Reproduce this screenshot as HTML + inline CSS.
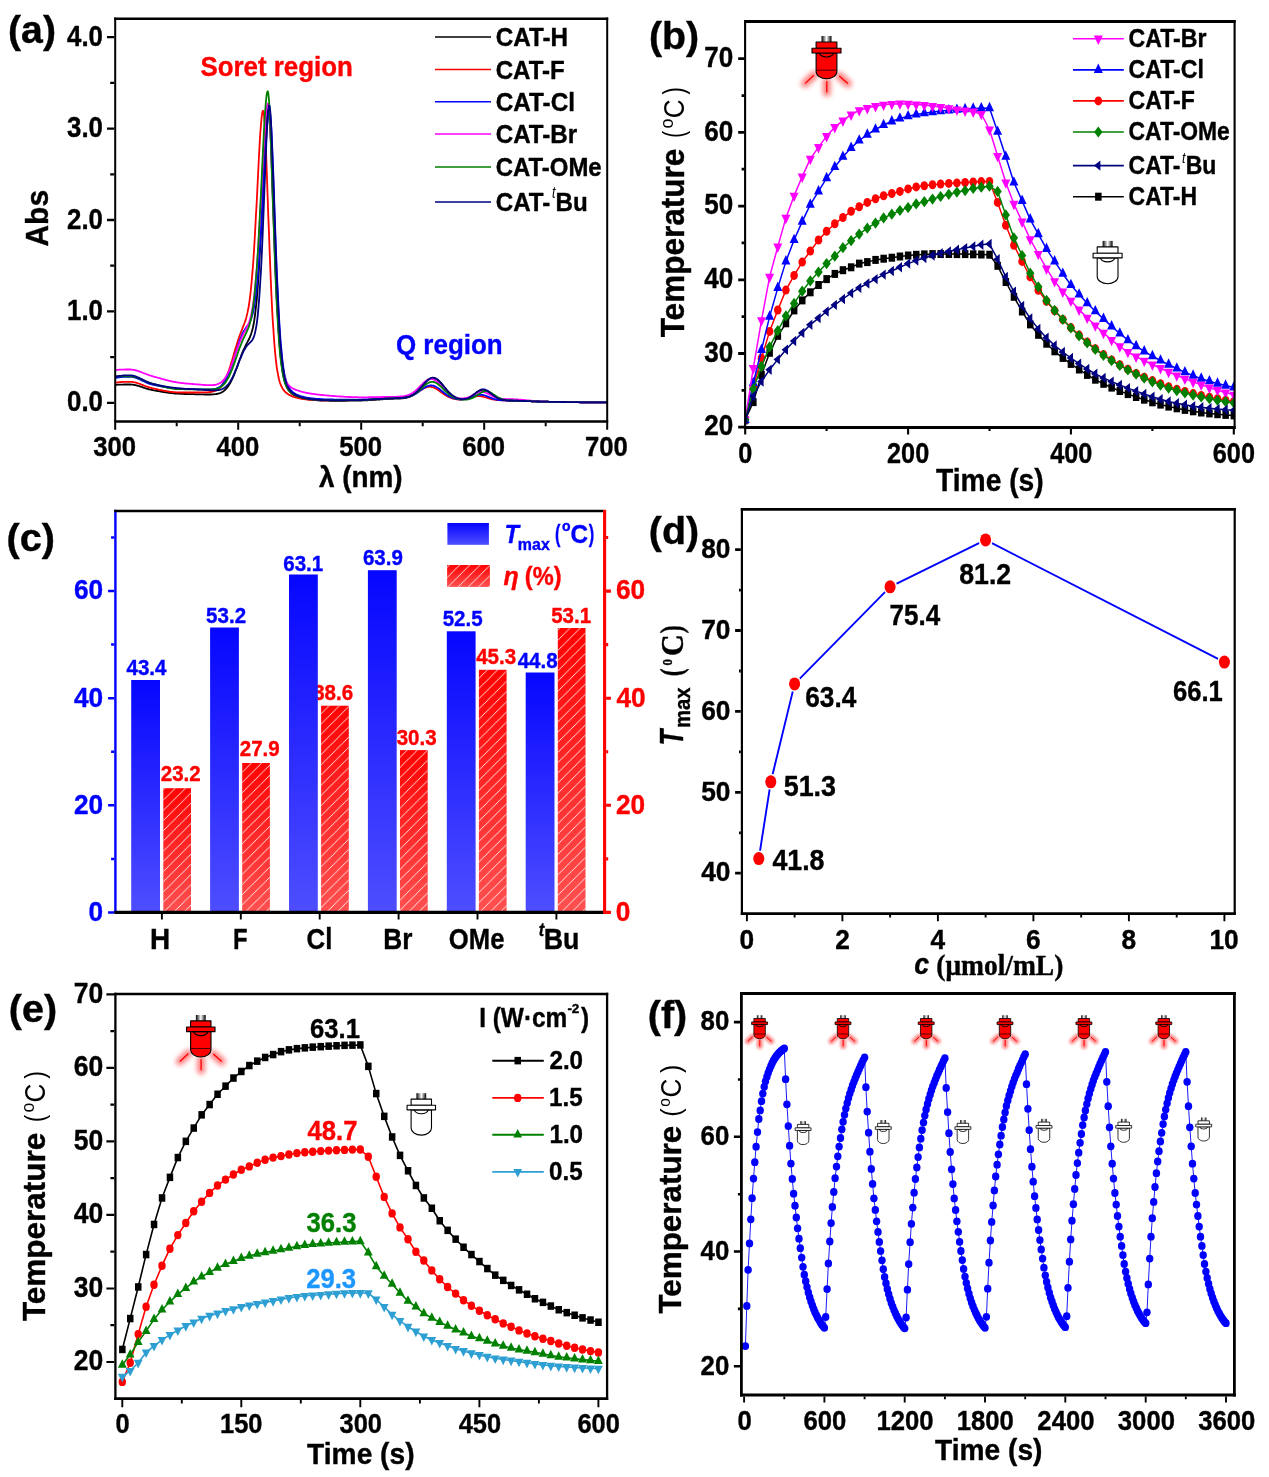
<!DOCTYPE html>
<html lang="en"><head><meta charset="utf-8"><title>Figure</title>
<style>
html,body{margin:0;padding:0;background:#fff}
svg{display:block;will-change:transform}
text{stroke-width:0.4}
.lb,.ls,.ry{vector-effect:non-scaling-stroke}
.on .lb{fill:#f00;stroke:#000;stroke-width:1.1}
.on .ls{stroke:#000;stroke-width:1.1}
.off .lb{fill:#fff;stroke:#000;stroke-width:1.1}
.off .ls{stroke:#000;stroke-width:1.1}
.sm .lb,.sm .ls{stroke-width:0.8}
.sm .ry{stroke-width:1}
</style></head>
<body>
<svg width="1269" height="1477" viewBox="0 0 1269 1477" font-family='"Liberation Sans", Arial, Helvetica, sans-serif' font-weight="bold" stroke-linejoin="round">
<defs>
<linearGradient id="capg" x1="0" x2="1" y1="0" y2="0"><stop offset="0" stop-color="#000"/><stop offset="0.5" stop-color="#fff"/><stop offset="1" stop-color="#000"/></linearGradient>
<filter id="glow" x="-100%" y="-100%" width="300%" height="300%"><feGaussianBlur stdDeviation="2.5"/></filter>
<filter id="glowb" x="-100%" y="-100%" width="300%" height="300%"><feGaussianBlur stdDeviation="3.2"/></filter>
<g id="lampoff"><g class="off"><rect x="-5" y="0" width="10" height="6.2" fill="url(#capg)"/><rect x="-10.4" y="6" width="20.8" height="6.3" class="lb"/><path d="M-10.4 17V35.5A10.4 7.3 0 0 0 10.4 35.5V17Z" class="lb"/><rect x="-14.5" y="12.3" width="29" height="4.7" class="lb"/><path d="M-7 17A7 4 0 0 0 7 17" fill="none" class="ls"/></g></g>
<g id="lampoffs" class="sm"><g class="off"><rect x="-5" y="0" width="10" height="6.2" fill="url(#capg)"/><rect x="-10.4" y="6" width="20.8" height="6.3" class="lb"/><path d="M-10.4 17V35.5A10.4 7.3 0 0 0 10.4 35.5V17Z" class="lb"/><rect x="-14.5" y="12.3" width="29" height="4.7" class="lb"/><path d="M-7 17A7 4 0 0 0 7 17" fill="none" class="ls"/></g></g>
<g id="lampon"><path d="M-12.6 39.2L-21.3 47.4M0.3 45.2V56.5M12.8 39.9L21.3 47.4" stroke="#f00" stroke-width="8" stroke-linecap="round" opacity="0.5" filter="url(#glow)"/><path d="M-12.6 39.2L-21.3 47.4M0.3 45.2V56.5M12.8 39.9L21.3 47.4" stroke="#f00" stroke-width="1.3" class="ry"/><g class="on"><rect x="-5" y="0" width="10" height="6.2" fill="url(#capg)"/><rect x="-10.4" y="6" width="20.8" height="6.3" class="lb"/><path d="M-10.4 17V35.5A10.4 7.3 0 0 0 10.4 35.5V17Z" class="lb"/><rect x="-14.5" y="12.3" width="29" height="4.7" class="lb"/><path d="M-7 17A7 4 0 0 0 7 17" fill="none" class="ls"/><path d="M-10.4 34.2H10.4" stroke="#500" stroke-width="1.1" class="ry"/></g></g>
<g id="lampons" class="sm"><path d="M-12.6 39.2L-21.3 47.4M0.3 45.2V56.5M12.8 39.9L21.3 47.4" stroke="#f00" stroke-width="10" stroke-linecap="round" opacity="0.5" filter="url(#glowb)"/><path d="M-12.6 39.2L-21.3 47.4M0.3 45.2V56.5M12.8 39.9L21.3 47.4" stroke="#f00" stroke-width="1.3" class="ry"/><g class="on"><rect x="-5" y="0" width="10" height="6.2" fill="url(#capg)"/><rect x="-10.4" y="6" width="20.8" height="6.3" class="lb"/><path d="M-10.4 17V35.5A10.4 7.3 0 0 0 10.4 35.5V17Z" class="lb"/><rect x="-14.5" y="12.3" width="29" height="4.7" class="lb"/><path d="M-7 17A7 4 0 0 0 7 17" fill="none" class="ls"/><path d="M-10.4 34.2H10.4" stroke="#500" stroke-width="1.1" class="ry"/></g></g>
<marker id="bsq" markerUnits="userSpaceOnUse" markerWidth="24" markerHeight="24" viewBox="-12 -12 24 24" refX="0" refY="0" overflow="visible"><rect x="-3.2" y="-4" width="6.5" height="8" fill="#000"/></marker>
<marker id="bci" markerUnits="userSpaceOnUse" markerWidth="24" markerHeight="24" viewBox="-12 -12 24 24" refX="0" refY="0" overflow="visible"><ellipse rx="3.8" ry="4.5" fill="#f00"/></marker>
<marker id="bup" markerUnits="userSpaceOnUse" markerWidth="24" markerHeight="24" viewBox="-12 -12 24 24" refX="0" refY="0" overflow="visible"><path d="M0 -6.3L4.5 3.1H-4.5Z" fill="#00f"/></marker>
<marker id="bdn" markerUnits="userSpaceOnUse" markerWidth="24" markerHeight="24" viewBox="-12 -12 24 24" refX="0" refY="0" overflow="visible"><path d="M0 6.3L4.5 -3.1H-4.5Z" fill="#f0f"/></marker>
<marker id="bdi" markerUnits="userSpaceOnUse" markerWidth="24" markerHeight="24" viewBox="-12 -12 24 24" refX="0" refY="0" overflow="visible"><path d="M0 -5.6L4.2 0L0 5.6L-4.2 0Z" fill="#008000"/></marker>
<marker id="blf" markerUnits="userSpaceOnUse" markerWidth="24" markerHeight="24" viewBox="-12 -12 24 24" refX="0" refY="0" overflow="visible"><path d="M-4.3 0L2.1 5.2V-5.2Z" fill="#000080"/></marker>
<clipPath id="clb"><rect x="745.1" y="21.4" width="489.5" height="406.1"/></clipPath>
<linearGradient id="gb" x1="0" x2="0" y1="0" y2="1"><stop offset="0" stop-color="#0606ff"/><stop offset="1" stop-color="#4e4eff"/></linearGradient>
<linearGradient id="gr" x1="0" x2="0" y1="0" y2="1"><stop offset="0" stop-color="#ff0202"/><stop offset="1" stop-color="#ff5050"/></linearGradient>
<pattern id="hat" patternUnits="userSpaceOnUse" width="10.2" height="10.2"><path d="M5.7 -1L-1 5.7M11.2 3.7L3.7 11.2" stroke="#fff" stroke-width="0.9" stroke-opacity="0.95"/></pattern>
<marker id="esq" markerUnits="userSpaceOnUse" markerWidth="24" markerHeight="24" viewBox="-12 -12 24 24" refX="0" refY="0" overflow="visible"><rect x="-3.2" y="-3.8" width="6.5" height="7.5" fill="#000"/></marker>
<marker id="eci" markerUnits="userSpaceOnUse" markerWidth="24" markerHeight="24" viewBox="-12 -12 24 24" refX="0" refY="0" overflow="visible"><ellipse rx="3.7" ry="4.2" fill="#f00"/></marker>
<marker id="eup" markerUnits="userSpaceOnUse" markerWidth="24" markerHeight="24" viewBox="-12 -12 24 24" refX="0" refY="0" overflow="visible"><path d="M0 -5.7L4.4 2.8H-4.4Z" fill="#008000"/></marker>
<marker id="edn" markerUnits="userSpaceOnUse" markerWidth="24" markerHeight="24" viewBox="-12 -12 24 24" refX="0" refY="0" overflow="visible"><path d="M0 5.7L4.4 -2.9H-4.4Z" fill="#2e9fd2"/></marker>
<marker id="fci" markerUnits="userSpaceOnUse" markerWidth="24" markerHeight="24" viewBox="-12 -12 24 24" refX="0" refY="0" overflow="visible"><ellipse rx="3.7" ry="3.9" fill="#00f"/></marker>
</defs>
<g id="pa">
<g stroke-linejoin="round">
<polyline points="115.2,384.9 115.8,384.8 116.4,384.8 117,384.8 117.7,384.7 118.3,384.7 118.9,384.7 119.5,384.6 120.1,384.6 120.7,384.6 121.4,384.6 122,384.6 122.6,384.6 123.2,384.6 123.8,384.5 124.4,384.5 125,384.5 125.7,384.5 126.3,384.5 126.9,384.5 127.5,384.5 128.1,384.5 128.7,384.5 129.3,384.5 130,384.5 130.6,384.5 131.2,384.6 131.8,384.6 132.4,384.7 133,384.7 133.7,384.8 134.3,384.9 134.9,385.1 135.5,385.2 136.1,385.3 136.7,385.5 137.3,385.6 138,385.8 138.6,386 139.2,386.2 139.8,386.4 140.4,386.5 141,386.7 141.6,386.9 142.3,387.1 142.9,387.4 143.5,387.6 144.1,387.8 144.7,388 145.3,388.2 146,388.4 146.6,388.6 147.2,388.8 147.8,388.9 148.4,389.1 149,389.3 149.6,389.4 150.3,389.6 150.9,389.7 151.5,389.9 152.1,390 152.7,390.1 153.3,390.2 153.9,390.3 154.6,390.5 155.2,390.6 155.8,390.7 156.4,390.8 157,390.9 157.6,391 158.2,391.1 158.9,391.2 159.5,391.3 160.1,391.4 160.7,391.6 161.3,391.7 161.9,391.8 162.6,391.9 163.2,392 163.8,392.1 164.4,392.2 165,392.3 165.6,392.3 166.2,392.4 166.9,392.5 167.5,392.6 168.1,392.7 168.7,392.8 169.3,392.9 169.9,392.9 170.6,393 171.2,393.1 171.8,393.2 172.4,393.2 173,393.3 173.6,393.3 174.2,393.4 174.9,393.5 175.5,393.5 176.1,393.5 176.7,393.6 177.3,393.6 177.9,393.7 178.5,393.7 179.2,393.7 179.8,393.8 180.4,393.8 181,393.8 181.6,393.9 182.2,393.9 182.9,393.9 183.5,393.9 184.1,394 184.7,394 185.3,394 185.9,394 186.5,394 187.2,394.1 187.8,394.1 188.4,394.1 189,394.1 189.6,394.1 190.2,394.1 190.8,394.2 191.5,394.2 192.1,394.2 192.7,394.2 193.3,394.2 193.9,394.2 194.5,394.2 195.2,394.3 195.8,394.3 196.4,394.3 197,394.3 197.6,394.3 198.2,394.3 198.8,394.3 199.5,394.3 200.1,394.4 200.7,394.4 201.3,394.4 201.9,394.4 202.5,394.4 203.1,394.4 203.8,394.4 204.4,394.5 205,394.5 205.6,394.5 206.2,394.5 206.8,394.5 207.5,394.5 208.1,394.5 208.7,394.5 209.3,394.5 209.9,394.5 210.5,394.5 211.1,394.5 211.8,394.4 212.4,394.4 213,394.4 213.6,394.3 214.2,394.3 214.8,394.2 215.4,394.2 216.1,394.1 216.7,394 217.3,393.9 217.9,393.7 218.5,393.6 219.1,393.4 219.8,393.2 220.4,393 221,392.7 221.6,392.4 222.2,392.1 222.8,391.7 223.4,391.3 224.1,390.8 224.7,390.3 225.3,389.7 225.9,389.1 226.5,388.4 227.1,387.7 227.7,386.9 228.4,386 229,385.1 229.6,384.1 230.2,383 230.8,381.8 231.4,380.6 232.1,379.3 232.7,378 233.3,376.6 233.9,375.1 234.5,373.6 235.1,372 235.7,370.4 236.4,368.8 237,367.1 237.6,365.4 238.2,363.7 238.8,362 239.4,360.3 240,358.7 240.7,357 241.3,355.4 241.9,353.8 242.5,352.3 243.1,350.9 243.7,349.5 244.4,348.1 245,346.8 245.6,345.6 246.2,344.4 246.8,343.2 247.4,342.1 248,340.9 248.7,339.8 249.3,338.5 249.9,337.2 250.5,335.7 251.1,334 251.7,332.1 252.3,329.9 253,327.3 253.6,324.3 254.2,320.8 254.8,316.7 255.4,311.9 256,306.4 256.7,300.2 257.3,293.2 257.9,285.3 258.5,276.5 259.1,266.8 259.7,256.3 260.3,244.9 261,232.8 261.6,220 262.2,206.8 262.8,193.2 263.4,179.6 264,166.1 264.6,153.3 265.3,141.3 265.9,130.7 266.5,121.9 267.1,115.3 267.7,111.1 268.3,109.8 269,111.8 269.6,118 270.2,127.9 270.8,141 271.4,156.2 272,173 272.6,190.5 273.3,208.2 273.9,225.7 274.5,242.7 275.1,258.9 275.7,274.1 276.3,288.3 276.9,301.4 277.6,313.2 278.2,324 278.8,333.6 279.4,342.1 280,349.6 280.6,356.1 281.3,361.8 281.9,366.6 282.5,370.8 283.1,374.4 283.7,377.4 284.3,380 284.9,382.2 285.6,384.1 286.2,385.7 286.8,387.1 287.4,388.3 288,389.3 288.6,390.2 289.2,391 289.9,391.7 290.5,392.4 291.1,392.9 291.7,393.5 292.3,393.9 292.9,394.4 293.6,394.8 294.2,395.1 294.8,395.5 295.4,395.8 296,396.1 296.6,396.4 297.2,396.7 297.9,396.9 298.5,397.1 299.1,397.4 299.7,397.6 300.3,397.8 300.9,397.9 301.5,398.1 302.2,398.3 302.8,398.4 303.4,398.5 304,398.7 304.6,398.8 305.2,398.9 305.9,399 306.5,399.1 307.1,399.2 307.7,399.3 308.3,399.4 308.9,399.5 309.5,399.6 310.2,399.7 310.8,399.7 311.4,399.8 312,399.9 312.6,399.9 313.2,400 313.8,400.1 314.5,400.1 315.1,400.2 315.7,400.2 316.3,400.2 316.9,400.3 317.5,400.3 318.2,400.4 318.8,400.4 319.4,400.4 320,400.5 320.6,400.5 321.2,400.5 321.8,400.5 322.5,400.6 323.1,400.6 323.7,400.6 324.3,400.6 324.9,400.6 325.5,400.7 326.1,400.7 326.8,400.7 327.4,400.7 328,400.7 328.6,400.7 329.2,400.7 329.8,400.8 330.5,400.8 331.1,400.8 331.7,400.8 332.3,400.8 332.9,400.8 333.5,400.8 334.1,400.8 334.8,400.8 335.4,400.8 336,400.8 336.6,400.8 337.2,400.8 337.8,400.8 338.4,400.8 339.1,400.8 339.7,400.8 340.3,400.8 340.9,400.8 341.5,400.8 342.1,400.8 342.8,400.8 343.4,400.8 344,400.8 344.6,400.8 345.2,400.7 345.8,400.7 346.4,400.7 347.1,400.7 347.7,400.7 348.3,400.7 348.9,400.7 349.5,400.7 350.1,400.7 350.7,400.7 351.4,400.7 352,400.7 352.6,400.6 353.2,400.6 353.8,400.6 354.4,400.6 355.1,400.6 355.7,400.6 356.3,400.6 356.9,400.6 357.5,400.6 358.1,400.5 358.7,400.5 359.4,400.5 360,400.5 360.6,400.5 361.2,400.5 361.8,400.5 362.4,400.4 363,400.4 363.7,400.4 364.3,400.4 364.9,400.4 365.5,400.3 366.1,400.3 366.7,400.3 367.4,400.3 368,400.2 368.6,400.2 369.2,400.2 369.8,400.1 370.4,400.1 371,400.1 371.7,400 372.3,400 372.9,399.9 373.5,399.9 374.1,399.9 374.7,399.8 375.3,399.8 376,399.7 376.6,399.7 377.2,399.7 377.8,399.6 378.4,399.6 379,399.5 379.7,399.5 380.3,399.4 380.9,399.4 381.5,399.4 382.1,399.3 382.7,399.3 383.3,399.2 384,399.2 384.6,399.2 385.2,399.1 385.8,399.1 386.4,399.1 387,399 387.6,399 388.3,399 388.9,398.9 389.5,398.9 390.1,398.9 390.7,398.8 391.3,398.8 392,398.8 392.6,398.8 393.2,398.7 393.8,398.7 394.4,398.7 395,398.7 395.6,398.7 396.3,398.6 396.9,398.6 397.5,398.6 398.1,398.6 398.7,398.6 399.3,398.5 399.9,398.5 400.6,398.5 401.2,398.4 401.8,398.4 402.4,398.3 403,398.3 403.6,398.2 404.2,398.1 404.9,398 405.5,397.9 406.1,397.8 406.7,397.7 407.3,397.5 407.9,397.3 408.6,397.1 409.2,396.9 409.8,396.7 410.4,396.4 411,396.2 411.6,395.9 412.2,395.5 412.9,395.1 413.5,394.8 414.1,394.3 414.7,393.9 415.3,393.4 415.9,392.9 416.6,392.3 417.2,391.7 417.8,391.1 418.4,390.5 419,389.8 419.6,389.2 420.2,388.5 420.9,387.8 421.5,387.1 422.1,386.3 422.7,385.6 423.3,384.9 423.9,384.2 424.5,383.5 425.2,382.8 425.8,382.2 426.4,381.5 427,380.9 427.6,380.4 428.2,379.9 428.9,379.4 429.5,379 430.1,378.7 430.7,378.4 431.3,378.2 431.9,378 432.5,377.9 433.2,377.9 433.8,378 434.4,378.1 435,378.3 435.6,378.5 436.2,378.9 436.8,379.3 437.5,379.7 438.1,380.2 438.7,380.7 439.3,381.3 439.9,381.9 440.5,382.6 441.2,383.3 441.8,384 442.4,384.7 443,385.5 443.6,386.2 444.2,387 444.8,387.8 445.5,388.5 446.1,389.2 446.7,390 447.3,390.7 447.9,391.4 448.5,392 449.1,392.6 449.8,393.3 450.4,393.8 451,394.4 451.6,394.9 452.2,395.4 452.8,395.8 453.5,396.2 454.1,396.6 454.7,397 455.3,397.3 455.9,397.6 456.5,397.9 457.1,398.1 457.8,398.3 458.4,398.5 459,398.7 459.6,398.8 460.2,398.9 460.8,399 461.4,399.1 462.1,399.1 462.7,399.1 463.3,399.1 463.9,399.1 464.5,399 465.1,398.9 465.8,398.8 466.4,398.6 467,398.5 467.6,398.3 468.2,398 468.8,397.8 469.4,397.5 470.1,397.1 470.7,396.8 471.3,396.4 471.9,396 472.5,395.6 473.1,395.1 473.7,394.7 474.4,394.2 475,393.7 475.6,393.3 476.2,392.8 476.8,392.3 477.4,391.9 478.1,391.5 478.7,391.1 479.3,390.8 479.9,390.5 480.5,390.2 481.1,390 481.7,389.9 482.4,389.8 483,389.8 483.6,389.8 484.2,389.9 484.8,390 485.4,390.2 486,390.5 486.7,390.8 487.3,391.2 487.9,391.6 488.5,392 489.1,392.4 489.7,392.9 490.4,393.4 491,393.9 491.6,394.3 492.2,394.8 492.8,395.3 493.4,395.8 494,396.2 494.7,396.6 495.3,397 495.9,397.4 496.5,397.7 497.1,398.1 497.7,398.4 498.3,398.6 499,398.9 499.6,399.1 500.2,399.3 500.8,399.5 501.4,399.6 502,399.8 502.7,399.9 503.3,400 503.9,400.1 504.5,400.1 505.1,400.2 505.7,400.3 506.3,400.3 507,400.4 507.6,400.4 508.2,400.4 508.8,400.4 509.4,400.5 510,400.5 510.6,400.5 511.3,400.5 511.9,400.6 512.5,400.6 513.1,400.6 513.7,400.6 514.3,400.6 515,400.6 515.6,400.7 516.2,400.7 516.8,400.7 517.4,400.7 518,400.7 518.6,400.8 519.3,400.8 519.9,400.8 520.5,400.8 521.1,400.9 521.7,400.9 522.3,400.9 522.9,400.9 523.6,400.9 524.2,401 524.8,401 525.4,401 526,401 526.6,401.1 527.3,401.1 527.9,401.1 528.5,401.1 529.1,401.2 529.7,401.2 530.3,401.2 530.9,401.2 531.6,401.3 532.2,401.3 532.8,401.3 533.4,401.3 534,401.4 534.6,401.4 535.2,401.4 535.9,401.4 536.5,401.4 537.1,401.5 537.7,401.5 538.3,401.5 538.9,401.5 539.6,401.6 540.2,401.6 540.8,401.6 541.4,401.6 542,401.6 542.6,401.6 543.2,401.7 543.9,401.7 544.5,401.7 545.1,401.7 545.7,401.7 546.3,401.7 546.9,401.7 547.5,401.7 548.2,401.7 548.8,401.8 549.4,401.8 550,401.8 550.6,401.8 551.2,401.8 551.9,401.8 552.5,401.8 553.1,401.8 553.7,401.8 554.3,401.9 554.9,401.9 555.5,401.9 556.2,401.9 556.8,401.9 557.4,401.9 558,401.9 558.6,401.9 559.2,401.9 559.8,402 560.5,402 561.1,402 561.7,402 562.3,402 562.9,402 563.5,402 564.2,402 564.8,402 565.4,402 566,402.1 566.6,402.1 567.2,402.1 567.8,402.1 568.5,402.1 569.1,402.1 569.7,402.1 570.3,402.1 570.9,402.1 571.5,402.1 572.1,402.1 572.8,402.2 573.4,402.2 574,402.2 574.6,402.2 575.2,402.2 575.8,402.2 576.5,402.2 577.1,402.2 577.7,402.2 578.3,402.2 578.9,402.2 579.5,402.2 580.1,402.3 580.8,402.3 581.4,402.3 582,402.3 582.6,402.3 583.2,402.3 583.8,402.3 584.4,402.3 585.1,402.3 585.7,402.3 586.3,402.3 586.9,402.3 587.5,402.3 588.1,402.3 588.8,402.3 589.4,402.4 590,402.4 590.6,402.4 591.2,402.4 591.8,402.4 592.4,402.4 593.1,402.4 593.7,402.4 594.3,402.4 594.9,402.4 595.5,402.4 596.1,402.4 596.7,402.4 597.4,402.4 598,402.4 598.6,402.4 599.2,402.4 599.8,402.4 600.4,402.4 601.1,402.4 601.7,402.4 602.3,402.4 602.9,402.4 603.5,402.4 604.1,402.4 604.7,402.4 605.4,402.4 606,402.4 606.6,402.4 607.2,402.4" fill="none" stroke="#000" stroke-width="1.8"/>
<polyline points="115.2,382.9 115.8,382.7 116.4,382.6 117,382.5 117.7,382.4 118.3,382.3 118.9,382.2 119.5,382.2 120.1,382.1 120.7,382.1 121.4,382 122,382 122.6,381.9 123.2,381.9 123.8,381.9 124.4,381.8 125,381.8 125.7,381.8 126.3,381.8 126.9,381.8 127.5,381.8 128.1,381.8 128.7,381.8 129.3,381.8 130,381.8 130.6,381.8 131.2,381.8 131.8,381.9 132.4,381.9 133,382 133.7,382.1 134.3,382.3 134.9,382.4 135.5,382.5 136.1,382.7 136.7,382.9 137.3,383.1 138,383.3 138.6,383.5 139.2,383.7 139.8,383.9 140.4,384.1 141,384.4 141.6,384.6 142.3,384.8 142.9,385.1 143.5,385.3 144.1,385.6 144.7,385.8 145.3,386 146,386.3 146.6,386.5 147.2,386.7 147.8,386.9 148.4,387.1 149,387.3 149.6,387.5 150.3,387.7 150.9,387.9 151.5,388 152.1,388.2 152.7,388.3 153.3,388.4 153.9,388.6 154.6,388.7 155.2,388.8 155.8,389 156.4,389.1 157,389.2 157.6,389.4 158.2,389.5 158.9,389.7 159.5,389.8 160.1,389.9 160.7,390.1 161.3,390.2 161.9,390.3 162.6,390.4 163.2,390.6 163.8,390.7 164.4,390.8 165,390.9 165.6,391 166.2,391.1 166.9,391.2 167.5,391.3 168.1,391.4 168.7,391.5 169.3,391.6 169.9,391.7 170.6,391.8 171.2,391.9 171.8,392 172.4,392 173,392.1 173.6,392.1 174.2,392.2 174.9,392.2 175.5,392.3 176.1,392.3 176.7,392.4 177.3,392.4 177.9,392.4 178.5,392.4 179.2,392.4 179.8,392.5 180.4,392.5 181,392.5 181.6,392.5 182.2,392.5 182.9,392.5 183.5,392.5 184.1,392.5 184.7,392.5 185.3,392.5 185.9,392.5 186.5,392.5 187.2,392.5 187.8,392.5 188.4,392.5 189,392.5 189.6,392.5 190.2,392.5 190.8,392.5 191.5,392.5 192.1,392.5 192.7,392.5 193.3,392.5 193.9,392.5 194.5,392.5 195.2,392.5 195.8,392.5 196.4,392.5 197,392.5 197.6,392.5 198.2,392.5 198.8,392.5 199.5,392.5 200.1,392.4 200.7,392.4 201.3,392.4 201.9,392.4 202.5,392.4 203.1,392.4 203.8,392.4 204.4,392.4 205,392.4 205.6,392.3 206.2,392.3 206.8,392.3 207.5,392.3 208.1,392.2 208.7,392.2 209.3,392.1 209.9,392.1 210.5,392 211.1,391.9 211.8,391.8 212.4,391.7 213,391.5 213.6,391.4 214.2,391.2 214.8,391 215.4,390.7 216.1,390.4 216.7,390.1 217.3,389.7 217.9,389.3 218.5,388.9 219.1,388.3 219.8,387.8 220.4,387.1 221,386.4 221.6,385.6 222.2,384.8 222.8,383.8 223.4,382.8 224.1,381.7 224.7,380.6 225.3,379.3 225.9,378 226.5,376.5 227.1,375 227.7,373.4 228.4,371.7 229,370 229.6,368.1 230.2,366.3 230.8,364.3 231.4,362.3 232.1,360.3 232.7,358.2 233.3,356.1 233.9,354 234.5,351.9 235.1,349.8 235.7,347.7 236.4,345.7 237,343.7 237.6,341.8 238.2,339.9 238.8,338 239.4,336.3 240,334.6 240.7,332.9 241.3,331.3 241.9,329.8 242.5,328.2 243.1,326.7 243.7,325.1 244.4,323.5 245,321.8 245.6,319.9 246.2,317.9 246.8,315.5 247.4,312.9 248,310 248.7,306.5 249.3,302.6 249.9,298.2 250.5,293.1 251.1,287.3 251.7,280.8 252.3,273.6 253,265.6 253.6,256.8 254.2,247.2 254.8,236.9 255.4,226 256,214.4 256.7,202.5 257.3,190.2 257.9,177.9 258.5,165.7 259.1,153.9 259.7,142.9 260.3,133 261,124.5 261.6,117.8 262.2,113.1 262.8,110.8 263.4,111 264,114.9 264.6,122.8 265.3,134.1 265.9,148.2 266.5,164.1 267.1,181.2 267.7,198.7 268.3,216.3 269,233.6 269.6,250.1 270.2,265.8 270.8,280.5 271.4,294.2 272,306.7 272.6,318 273.3,328.2 273.9,337.3 274.5,345.3 275.1,352.3 275.7,358.4 276.3,363.7 276.9,368.3 277.6,372.2 278.2,375.5 278.8,378.3 279.4,380.7 280,382.7 280.6,384.5 281.3,386 281.9,387.2 282.5,388.4 283.1,389.3 283.7,390.2 284.3,390.9 284.9,391.6 285.6,392.2 286.2,392.7 286.8,393.2 287.4,393.7 288,394.1 288.6,394.5 289.2,394.9 289.9,395.2 290.5,395.5 291.1,395.8 291.7,396.1 292.3,396.3 292.9,396.6 293.6,396.8 294.2,397 294.8,397.2 295.4,397.4 296,397.6 296.6,397.7 297.2,397.9 297.9,398 298.5,398.2 299.1,398.3 299.7,398.4 300.3,398.6 300.9,398.7 301.5,398.8 302.2,398.9 302.8,399 303.4,399.1 304,399.1 304.6,399.2 305.2,399.3 305.9,399.4 306.5,399.4 307.1,399.5 307.7,399.6 308.3,399.6 308.9,399.7 309.5,399.7 310.2,399.8 310.8,399.8 311.4,399.9 312,399.9 312.6,399.9 313.2,400 313.8,400 314.5,400.1 315.1,400.1 315.7,400.1 316.3,400.1 316.9,400.2 317.5,400.2 318.2,400.2 318.8,400.2 319.4,400.3 320,400.3 320.6,400.3 321.2,400.3 321.8,400.3 322.5,400.3 323.1,400.3 323.7,400.4 324.3,400.4 324.9,400.4 325.5,400.4 326.1,400.4 326.8,400.4 327.4,400.4 328,400.4 328.6,400.4 329.2,400.4 329.8,400.4 330.5,400.4 331.1,400.4 331.7,400.4 332.3,400.4 332.9,400.4 333.5,400.4 334.1,400.4 334.8,400.4 335.4,400.4 336,400.4 336.6,400.4 337.2,400.4 337.8,400.4 338.4,400.4 339.1,400.4 339.7,400.4 340.3,400.4 340.9,400.4 341.5,400.4 342.1,400.4 342.8,400.4 343.4,400.4 344,400.3 344.6,400.3 345.2,400.3 345.8,400.3 346.4,400.3 347.1,400.3 347.7,400.3 348.3,400.3 348.9,400.3 349.5,400.3 350.1,400.3 350.7,400.2 351.4,400.2 352,400.2 352.6,400.2 353.2,400.2 353.8,400.2 354.4,400.2 355.1,400.2 355.7,400.2 356.3,400.1 356.9,400.1 357.5,400.1 358.1,400.1 358.7,400.1 359.4,400.1 360,400.1 360.6,400 361.2,400 361.8,400 362.4,400 363,400 363.7,400 364.3,399.9 364.9,399.9 365.5,399.9 366.1,399.9 366.7,399.8 367.4,399.8 368,399.8 368.6,399.7 369.2,399.7 369.8,399.7 370.4,399.6 371,399.6 371.7,399.6 372.3,399.5 372.9,399.5 373.5,399.4 374.1,399.4 374.7,399.4 375.3,399.3 376,399.3 376.6,399.2 377.2,399.2 377.8,399.2 378.4,399.1 379,399.1 379.7,399 380.3,399 380.9,398.9 381.5,398.9 382.1,398.9 382.7,398.8 383.3,398.8 384,398.7 384.6,398.7 385.2,398.7 385.8,398.6 386.4,398.6 387,398.6 387.6,398.5 388.3,398.5 388.9,398.5 389.5,398.4 390.1,398.4 390.7,398.4 391.3,398.3 392,398.3 392.6,398.3 393.2,398.3 393.8,398.2 394.4,398.2 395,398.2 395.6,398.2 396.3,398.1 396.9,398.1 397.5,398.1 398.1,398.1 398.7,398 399.3,398 399.9,398 400.6,397.9 401.2,397.9 401.8,397.8 402.4,397.8 403,397.7 403.6,397.6 404.2,397.6 404.9,397.5 405.5,397.4 406.1,397.2 406.7,397.1 407.3,397 407.9,396.8 408.6,396.6 409.2,396.5 409.8,396.3 410.4,396 411,395.8 411.6,395.5 412.2,395.3 412.9,395 413.5,394.7 414.1,394.3 414.7,394 415.3,393.7 415.9,393.3 416.6,392.9 417.2,392.5 417.8,392.1 418.4,391.7 419,391.3 419.6,390.9 420.2,390.5 420.9,390.1 421.5,389.8 422.1,389.4 422.7,389 423.3,388.7 423.9,388.3 424.5,388 425.2,387.8 425.8,387.5 426.4,387.3 427,387.1 427.6,387 428.2,386.9 428.9,386.8 429.5,386.7 430.1,386.7 430.7,386.8 431.3,386.9 431.9,387 432.5,387.2 433.2,387.4 433.8,387.6 434.4,387.9 435,388.2 435.6,388.5 436.2,388.8 436.8,389.2 437.5,389.6 438.1,390 438.7,390.4 439.3,390.9 439.9,391.3 440.5,391.8 441.2,392.2 441.8,392.7 442.4,393.1 443,393.6 443.6,394 444.2,394.4 444.8,394.8 445.5,395.2 446.1,395.6 446.7,395.9 447.3,396.3 447.9,396.6 448.5,396.9 449.1,397.2 449.8,397.5 450.4,397.7 451,398 451.6,398.2 452.2,398.4 452.8,398.5 453.5,398.7 454.1,398.9 454.7,399 455.3,399.1 455.9,399.2 456.5,399.3 457.1,399.4 457.8,399.4 458.4,399.5 459,399.5 459.6,399.5 460.2,399.5 460.8,399.5 461.4,399.5 462.1,399.4 462.7,399.4 463.3,399.3 463.9,399.3 464.5,399.2 465.1,399.1 465.8,398.9 466.4,398.8 467,398.7 467.6,398.5 468.2,398.4 468.8,398.2 469.4,398 470.1,397.9 470.7,397.7 471.3,397.5 471.9,397.3 472.5,397.1 473.1,397 473.7,396.8 474.4,396.7 475,396.5 475.6,396.4 476.2,396.3 476.8,396.2 477.4,396.2 478.1,396.1 478.7,396.1 479.3,396.1 479.9,396.2 480.5,396.2 481.1,396.3 481.7,396.4 482.4,396.5 483,396.7 483.6,396.8 484.2,397 484.8,397.2 485.4,397.3 486,397.5 486.7,397.7 487.3,397.9 487.9,398.1 488.5,398.3 489.1,398.5 489.7,398.7 490.4,398.8 491,399 491.6,399.1 492.2,399.3 492.8,399.4 493.4,399.5 494,399.6 494.7,399.7 495.3,399.8 495.9,399.9 496.5,400 497.1,400.1 497.7,400.1 498.3,400.2 499,400.2 499.6,400.2 500.2,400.3 500.8,400.3 501.4,400.3 502,400.4 502.7,400.4 503.3,400.4 503.9,400.4 504.5,400.4 505.1,400.4 505.7,400.5 506.3,400.5 507,400.5 507.6,400.5 508.2,400.5 508.8,400.5 509.4,400.5 510,400.5 510.6,400.5 511.3,400.6 511.9,400.6 512.5,400.6 513.1,400.6 513.7,400.6 514.3,400.6 515,400.7 515.6,400.7 516.2,400.7 516.8,400.7 517.4,400.7 518,400.7 518.6,400.8 519.3,400.8 519.9,400.8 520.5,400.8 521.1,400.9 521.7,400.9 522.3,400.9 522.9,400.9 523.6,400.9 524.2,401 524.8,401 525.4,401 526,401 526.6,401.1 527.3,401.1 527.9,401.1 528.5,401.1 529.1,401.2 529.7,401.2 530.3,401.2 530.9,401.2 531.6,401.3 532.2,401.3 532.8,401.3 533.4,401.3 534,401.4 534.6,401.4 535.2,401.4 535.9,401.4 536.5,401.4 537.1,401.5 537.7,401.5 538.3,401.5 538.9,401.5 539.6,401.6 540.2,401.6 540.8,401.6 541.4,401.6 542,401.6 542.6,401.6 543.2,401.7 543.9,401.7 544.5,401.7 545.1,401.7 545.7,401.7 546.3,401.7 546.9,401.7 547.5,401.7 548.2,401.7 548.8,401.8 549.4,401.8 550,401.8 550.6,401.8 551.2,401.8 551.9,401.8 552.5,401.8 553.1,401.8 553.7,401.8 554.3,401.9 554.9,401.9 555.5,401.9 556.2,401.9 556.8,401.9 557.4,401.9 558,401.9 558.6,401.9 559.2,401.9 559.8,402 560.5,402 561.1,402 561.7,402 562.3,402 562.9,402 563.5,402 564.2,402 564.8,402 565.4,402 566,402.1 566.6,402.1 567.2,402.1 567.8,402.1 568.5,402.1 569.1,402.1 569.7,402.1 570.3,402.1 570.9,402.1 571.5,402.1 572.1,402.1 572.8,402.2 573.4,402.2 574,402.2 574.6,402.2 575.2,402.2 575.8,402.2 576.5,402.2 577.1,402.2 577.7,402.2 578.3,402.2 578.9,402.2 579.5,402.2 580.1,402.3 580.8,402.3 581.4,402.3 582,402.3 582.6,402.3 583.2,402.3 583.8,402.3 584.4,402.3 585.1,402.3 585.7,402.3 586.3,402.3 586.9,402.3 587.5,402.3 588.1,402.3 588.8,402.3 589.4,402.4 590,402.4 590.6,402.4 591.2,402.4 591.8,402.4 592.4,402.4 593.1,402.4 593.7,402.4 594.3,402.4 594.9,402.4 595.5,402.4 596.1,402.4 596.7,402.4 597.4,402.4 598,402.4 598.6,402.4 599.2,402.4 599.8,402.4 600.4,402.4 601.1,402.4 601.7,402.4 602.3,402.4 602.9,402.4 603.5,402.4 604.1,402.4 604.7,402.4 605.4,402.4 606,402.4 606.6,402.4 607.2,402.4" fill="none" stroke="#f00" stroke-width="1.8"/>
<polyline points="115.2,378.1 115.8,378 116.4,377.8 117,377.7 117.7,377.6 118.3,377.4 118.9,377.3 119.5,377.3 120.1,377.2 120.7,377.1 121.4,377 122,377 122.6,376.9 123.2,376.9 123.8,376.9 124.4,376.8 125,376.8 125.7,376.8 126.3,376.8 126.9,376.8 127.5,376.8 128.1,376.8 128.7,376.8 129.3,376.8 130,376.7 130.6,376.8 131.2,376.8 131.8,376.9 132.4,377 133,377.1 133.7,377.2 134.3,377.4 134.9,377.5 135.5,377.7 136.1,377.9 136.7,378.2 137.3,378.4 138,378.6 138.6,378.9 139.2,379.2 139.8,379.4 140.4,379.7 141,380 141.6,380.3 142.3,380.6 142.9,380.9 143.5,381.2 144.1,381.5 144.7,381.8 145.3,382 146,382.3 146.6,382.6 147.2,382.9 147.8,383.1 148.4,383.4 149,383.6 149.6,383.8 150.3,384 150.9,384.2 151.5,384.4 152.1,384.5 152.7,384.6 153.3,384.8 153.9,384.9 154.6,385.1 155.2,385.2 155.8,385.3 156.4,385.5 157,385.6 157.6,385.7 158.2,385.8 158.9,386 159.5,386.1 160.1,386.2 160.7,386.3 161.3,386.4 161.9,386.6 162.6,386.7 163.2,386.8 163.8,386.9 164.4,387 165,387.1 165.6,387.2 166.2,387.3 166.9,387.4 167.5,387.5 168.1,387.6 168.7,387.7 169.3,387.7 169.9,387.8 170.6,387.9 171.2,388 171.8,388.1 172.4,388.1 173,388.2 173.6,388.3 174.2,388.3 174.9,388.4 175.5,388.4 176.1,388.5 176.7,388.5 177.3,388.6 177.9,388.6 178.5,388.7 179.2,388.7 179.8,388.7 180.4,388.8 181,388.8 181.6,388.8 182.2,388.9 182.9,388.9 183.5,388.9 184.1,388.9 184.7,389 185.3,389 185.9,389 186.5,389 187.2,389 187.8,389.1 188.4,389.1 189,389.1 189.6,389.1 190.2,389.1 190.8,389.1 191.5,389.1 192.1,389.2 192.7,389.2 193.3,389.2 193.9,389.2 194.5,389.2 195.2,389.2 195.8,389.2 196.4,389.3 197,389.3 197.6,389.3 198.2,389.3 198.8,389.3 199.5,389.3 200.1,389.3 200.7,389.4 201.3,389.4 201.9,389.4 202.5,389.4 203.1,389.4 203.8,389.4 204.4,389.4 205,389.5 205.6,389.5 206.2,389.5 206.8,389.5 207.5,389.5 208.1,389.5 208.7,389.5 209.3,389.5 209.9,389.5 210.5,389.4 211.1,389.4 211.8,389.4 212.4,389.3 213,389.2 213.6,389.2 214.2,389.1 214.8,388.9 215.4,388.8 216.1,388.6 216.7,388.4 217.3,388.2 217.9,387.9 218.5,387.6 219.1,387.3 219.8,386.9 220.4,386.5 221,386 221.6,385.4 222.2,384.8 222.8,384.1 223.4,383.3 224.1,382.5 224.7,381.6 225.3,380.6 225.9,379.6 226.5,378.4 227.1,377.2 227.7,375.9 228.4,374.5 229,373.1 229.6,371.5 230.2,369.9 230.8,368.2 231.4,366.4 232.1,364.6 232.7,362.7 233.3,360.8 233.9,358.8 234.5,356.9 235.1,354.8 235.7,352.8 236.4,350.8 237,348.9 237.6,346.9 238.2,345 238.8,343.2 239.4,341.4 240,339.7 240.7,338 241.3,336.5 241.9,335.1 242.5,333.7 243.1,332.5 243.7,331.3 244.4,330.3 245,329.3 245.6,328.4 246.2,327.5 246.8,326.6 247.4,325.8 248,325 248.7,324 249.3,323 249.9,321.9 250.5,320.6 251.1,319 251.7,317.2 252.3,315.1 253,312.6 253.6,309.7 254.2,306.3 254.8,302.4 255.4,297.9 256,292.8 256.7,287.1 257.3,280.8 257.9,273.8 258.5,266.2 259.1,257.8 259.7,248.9 260.3,239.4 261,229.3 261.6,218.7 262.2,207.8 262.8,196.7 263.4,185.4 264,174.2 264.6,163.2 265.3,152.7 265.9,142.9 266.5,134.1 267.1,126.4 267.7,120.1 268.3,115.5 269,112.7 269.6,111.7 270.2,113.5 270.8,119.5 271.4,129.2 272,142.1 272.6,157.1 273.3,173.7 273.9,191 274.5,208.6 275.1,226 275.7,242.8 276.3,258.9 276.9,274 277.6,288.1 278.2,301 278.8,312.8 279.4,323.5 280,333 280.6,341.5 281.3,348.9 281.9,355.4 282.5,361 283.1,365.8 283.7,369.9 284.3,373.5 284.9,376.5 285.6,379 286.2,381.2 286.8,383 287.4,384.6 288,386 288.6,387.1 289.2,388.1 289.9,389 290.5,389.8 291.1,390.5 291.7,391.1 292.3,391.7 292.9,392.2 293.6,392.6 294.2,393.1 294.8,393.5 295.4,393.8 296,394.2 296.6,394.5 297.2,394.8 297.9,395 298.5,395.3 299.1,395.5 299.7,395.8 300.3,396 300.9,396.2 301.5,396.4 302.2,396.6 302.8,396.7 303.4,396.9 304,397 304.6,397.2 305.2,397.3 305.9,397.4 306.5,397.6 307.1,397.7 307.7,397.8 308.3,397.9 308.9,398 309.5,398.1 310.2,398.2 310.8,398.2 311.4,398.3 312,398.4 312.6,398.5 313.2,398.5 313.8,398.6 314.5,398.7 315.1,398.7 315.7,398.8 316.3,398.8 316.9,398.9 317.5,398.9 318.2,399 318.8,399 319.4,399 320,399.1 320.6,399.1 321.2,399.2 321.8,399.2 322.5,399.2 323.1,399.2 323.7,399.3 324.3,399.3 324.9,399.3 325.5,399.3 326.1,399.4 326.8,399.4 327.4,399.4 328,399.4 328.6,399.4 329.2,399.5 329.8,399.5 330.5,399.5 331.1,399.5 331.7,399.5 332.3,399.5 332.9,399.5 333.5,399.6 334.1,399.6 334.8,399.6 335.4,399.6 336,399.6 336.6,399.6 337.2,399.6 337.8,399.6 338.4,399.6 339.1,399.6 339.7,399.6 340.3,399.6 340.9,399.6 341.5,399.6 342.1,399.6 342.8,399.6 343.4,399.6 344,399.6 344.6,399.6 345.2,399.6 345.8,399.6 346.4,399.6 347.1,399.6 347.7,399.6 348.3,399.6 348.9,399.6 349.5,399.6 350.1,399.6 350.7,399.6 351.4,399.6 352,399.6 352.6,399.6 353.2,399.6 353.8,399.6 354.4,399.6 355.1,399.6 355.7,399.6 356.3,399.6 356.9,399.6 357.5,399.6 358.1,399.6 358.7,399.6 359.4,399.6 360,399.6 360.6,399.6 361.2,399.6 361.8,399.6 362.4,399.5 363,399.5 363.7,399.5 364.3,399.5 364.9,399.5 365.5,399.5 366.1,399.5 366.7,399.4 367.4,399.4 368,399.4 368.6,399.4 369.2,399.4 369.8,399.3 370.4,399.3 371,399.3 371.7,399.2 372.3,399.2 372.9,399.2 373.5,399.2 374.1,399.1 374.7,399.1 375.3,399.1 376,399 376.6,399 377.2,399 377.8,398.9 378.4,398.9 379,398.9 379.7,398.8 380.3,398.8 380.9,398.8 381.5,398.8 382.1,398.7 382.7,398.7 383.3,398.7 384,398.6 384.6,398.6 385.2,398.6 385.8,398.5 386.4,398.5 387,398.5 387.6,398.5 388.3,398.4 388.9,398.4 389.5,398.4 390.1,398.4 390.7,398.3 391.3,398.3 392,398.3 392.6,398.3 393.2,398.3 393.8,398.2 394.4,398.2 395,398.2 395.6,398.2 396.3,398.2 396.9,398.1 397.5,398.1 398.1,398.1 398.7,398.1 399.3,398.1 399.9,398 400.6,398 401.2,398 401.8,397.9 402.4,397.9 403,397.8 403.6,397.7 404.2,397.7 404.9,397.6 405.5,397.5 406.1,397.4 406.7,397.3 407.3,397.1 407.9,397 408.6,396.8 409.2,396.7 409.8,396.5 410.4,396.3 411,396 411.6,395.8 412.2,395.5 412.9,395.3 413.5,394.9 414.1,394.6 414.7,394.3 415.3,393.9 415.9,393.6 416.6,393.2 417.2,392.8 417.8,392.3 418.4,391.9 419,391.5 419.6,391 420.2,390.6 420.9,390.1 421.5,389.7 422.1,389.2 422.7,388.8 423.3,388.4 423.9,388 424.5,387.6 425.2,387.2 425.8,386.9 426.4,386.6 427,386.3 427.6,386.1 428.2,385.8 428.9,385.7 429.5,385.6 430.1,385.5 430.7,385.4 431.3,385.4 431.9,385.5 432.5,385.6 433.2,385.7 433.8,385.9 434.4,386.1 435,386.4 435.6,386.6 436.2,387 436.8,387.3 437.5,387.7 438.1,388.1 438.7,388.6 439.3,389 439.9,389.5 440.5,390 441.2,390.5 441.8,391 442.4,391.5 443,392 443.6,392.4 444.2,392.9 444.8,393.4 445.5,393.9 446.1,394.3 446.7,394.7 447.3,395.2 447.9,395.6 448.5,395.9 449.1,396.3 449.8,396.6 450.4,396.9 451,397.2 451.6,397.5 452.2,397.8 452.8,398 453.5,398.2 454.1,398.4 454.7,398.6 455.3,398.8 455.9,398.9 456.5,399 457.1,399.1 457.8,399.2 458.4,399.3 459,399.4 459.6,399.4 460.2,399.4 460.8,399.5 461.4,399.5 462.1,399.4 462.7,399.4 463.3,399.4 463.9,399.3 464.5,399.2 465.1,399.1 465.8,399 466.4,398.9 467,398.7 467.6,398.6 468.2,398.4 468.8,398.2 469.4,398 470.1,397.8 470.7,397.5 471.3,397.3 471.9,397.1 472.5,396.8 473.1,396.6 473.7,396.3 474.4,396.1 475,395.9 475.6,395.7 476.2,395.5 476.8,395.3 477.4,395.1 478.1,395 478.7,394.9 479.3,394.8 479.9,394.8 480.5,394.8 481.1,394.8 481.7,394.8 482.4,394.9 483,395 483.6,395.2 484.2,395.3 484.8,395.5 485.4,395.7 486,395.9 486.7,396.2 487.3,396.4 487.9,396.7 488.5,396.9 489.1,397.2 489.7,397.4 490.4,397.7 491,397.9 491.6,398.2 492.2,398.4 492.8,398.6 493.4,398.8 494,399 494.7,399.2 495.3,399.3 495.9,399.5 496.5,399.6 497.1,399.7 497.7,399.8 498.3,399.9 499,400 499.6,400.1 500.2,400.1 500.8,400.2 501.4,400.2 502,400.3 502.7,400.3 503.3,400.3 503.9,400.4 504.5,400.4 505.1,400.4 505.7,400.4 506.3,400.4 507,400.5 507.6,400.5 508.2,400.5 508.8,400.5 509.4,400.5 510,400.5 510.6,400.5 511.3,400.6 511.9,400.6 512.5,400.6 513.1,400.6 513.7,400.6 514.3,400.6 515,400.7 515.6,400.7 516.2,400.7 516.8,400.7 517.4,400.7 518,400.7 518.6,400.8 519.3,400.8 519.9,400.8 520.5,400.8 521.1,400.9 521.7,400.9 522.3,400.9 522.9,400.9 523.6,400.9 524.2,401 524.8,401 525.4,401 526,401 526.6,401.1 527.3,401.1 527.9,401.1 528.5,401.1 529.1,401.2 529.7,401.2 530.3,401.2 530.9,401.2 531.6,401.3 532.2,401.3 532.8,401.3 533.4,401.3 534,401.4 534.6,401.4 535.2,401.4 535.9,401.4 536.5,401.4 537.1,401.5 537.7,401.5 538.3,401.5 538.9,401.5 539.6,401.6 540.2,401.6 540.8,401.6 541.4,401.6 542,401.6 542.6,401.6 543.2,401.7 543.9,401.7 544.5,401.7 545.1,401.7 545.7,401.7 546.3,401.7 546.9,401.7 547.5,401.7 548.2,401.7 548.8,401.8 549.4,401.8 550,401.8 550.6,401.8 551.2,401.8 551.9,401.8 552.5,401.8 553.1,401.8 553.7,401.8 554.3,401.9 554.9,401.9 555.5,401.9 556.2,401.9 556.8,401.9 557.4,401.9 558,401.9 558.6,401.9 559.2,401.9 559.8,402 560.5,402 561.1,402 561.7,402 562.3,402 562.9,402 563.5,402 564.2,402 564.8,402 565.4,402 566,402.1 566.6,402.1 567.2,402.1 567.8,402.1 568.5,402.1 569.1,402.1 569.7,402.1 570.3,402.1 570.9,402.1 571.5,402.1 572.1,402.1 572.8,402.2 573.4,402.2 574,402.2 574.6,402.2 575.2,402.2 575.8,402.2 576.5,402.2 577.1,402.2 577.7,402.2 578.3,402.2 578.9,402.2 579.5,402.2 580.1,402.3 580.8,402.3 581.4,402.3 582,402.3 582.6,402.3 583.2,402.3 583.8,402.3 584.4,402.3 585.1,402.3 585.7,402.3 586.3,402.3 586.9,402.3 587.5,402.3 588.1,402.3 588.8,402.3 589.4,402.4 590,402.4 590.6,402.4 591.2,402.4 591.8,402.4 592.4,402.4 593.1,402.4 593.7,402.4 594.3,402.4 594.9,402.4 595.5,402.4 596.1,402.4 596.7,402.4 597.4,402.4 598,402.4 598.6,402.4 599.2,402.4 599.8,402.4 600.4,402.4 601.1,402.4 601.7,402.4 602.3,402.4 602.9,402.4 603.5,402.4 604.1,402.4 604.7,402.4 605.4,402.4 606,402.4 606.6,402.4 607.2,402.4" fill="none" stroke="#00f" stroke-width="1.8"/>
<polyline points="115.2,370 115.8,369.9 116.4,369.9 117,369.8 117.7,369.8 118.3,369.8 118.9,369.7 119.5,369.7 120.1,369.7 120.7,369.6 121.4,369.6 122,369.6 122.6,369.6 123.2,369.6 123.8,369.6 124.4,369.6 125,369.5 125.7,369.5 126.3,369.5 126.9,369.5 127.5,369.5 128.1,369.5 128.7,369.5 129.3,369.5 130,369.5 130.6,369.5 131.2,369.6 131.8,369.6 132.4,369.7 133,369.8 133.7,369.9 134.3,370 134.9,370.1 135.5,370.3 136.1,370.4 136.7,370.6 137.3,370.8 138,371 138.6,371.2 139.2,371.4 139.8,371.6 140.4,371.8 141,372.1 141.6,372.3 142.3,372.5 142.9,372.8 143.5,373 144.1,373.3 144.7,373.5 145.3,373.7 146,374 146.6,374.2 147.2,374.5 147.8,374.7 148.4,374.9 149,375.1 149.6,375.3 150.3,375.5 150.9,375.7 151.5,375.9 152.1,376.1 152.7,376.3 153.3,376.4 153.9,376.6 154.6,376.8 155.2,377 155.8,377.1 156.4,377.3 157,377.5 157.6,377.7 158.2,377.8 158.9,378 159.5,378.2 160.1,378.4 160.7,378.5 161.3,378.7 161.9,378.9 162.6,379.1 163.2,379.2 163.8,379.4 164.4,379.6 165,379.7 165.6,379.9 166.2,380.1 166.9,380.2 167.5,380.4 168.1,380.5 168.7,380.7 169.3,380.8 169.9,381 170.6,381.1 171.2,381.3 171.8,381.4 172.4,381.5 173,381.6 173.6,381.8 174.2,381.9 174.9,382 175.5,382.1 176.1,382.2 176.7,382.3 177.3,382.4 177.9,382.5 178.5,382.6 179.2,382.7 179.8,382.8 180.4,382.8 181,382.9 181.6,383 182.2,383.1 182.9,383.1 183.5,383.2 184.1,383.3 184.7,383.3 185.3,383.4 185.9,383.5 186.5,383.5 187.2,383.6 187.8,383.6 188.4,383.7 189,383.7 189.6,383.8 190.2,383.8 190.8,383.9 191.5,383.9 192.1,384 192.7,384 193.3,384.1 193.9,384.1 194.5,384.2 195.2,384.2 195.8,384.3 196.4,384.3 197,384.4 197.6,384.4 198.2,384.5 198.8,384.5 199.5,384.6 200.1,384.6 200.7,384.7 201.3,384.7 201.9,384.8 202.5,384.8 203.1,384.9 203.8,384.9 204.4,385 205,385 205.6,385.1 206.2,385.1 206.8,385.1 207.5,385.1 208.1,385.2 208.7,385.2 209.3,385.2 209.9,385.2 210.5,385.2 211.1,385.2 211.8,385.2 212.4,385.1 213,385.1 213.6,385 214.2,385 214.8,384.9 215.4,384.8 216.1,384.6 216.7,384.5 217.3,384.3 217.9,384 218.5,383.8 219.1,383.5 219.8,383.2 220.4,382.8 221,382.4 221.6,381.9 222.2,381.3 222.8,380.7 223.4,380.1 224.1,379.4 224.7,378.6 225.3,377.7 225.9,376.8 226.5,375.8 227.1,374.8 227.7,373.6 228.4,372.4 229,371.1 229.6,369.8 230.2,368.4 230.8,366.9 231.4,365.3 232.1,363.7 232.7,362.1 233.3,360.4 233.9,358.6 234.5,356.9 235.1,355.1 235.7,353.3 236.4,351.5 237,349.8 237.6,348 238.2,346.3 238.8,344.6 239.4,343 240,341.4 240.7,339.9 241.3,338.5 241.9,337.1 242.5,335.8 243.1,334.5 243.7,333.3 244.4,332.1 245,331 245.6,329.8 246.2,328.7 246.8,327.5 247.4,326.2 248,324.9 248.7,323.4 249.3,321.7 249.9,319.8 250.5,317.6 251.1,315.1 251.7,312.2 252.3,308.9 253,305.1 253.6,300.7 254.2,295.8 254.8,290.3 255.4,284.2 256,277.4 256.7,269.9 257.3,261.7 257.9,252.9 258.5,243.4 259.1,233.3 259.7,222.6 260.3,211.5 261,200.1 261.6,188.4 262.2,176.6 262.8,164.9 263.4,153.6 264,142.8 264.6,132.8 265.3,123.8 265.9,116.2 266.5,110.2 267.1,106 267.7,103.7 268.3,103.6 269,107.2 269.6,114.9 270.2,126.2 270.8,140.4 271.4,156.5 272,173.8 272.6,191.7 273.3,209.6 273.9,227.2 274.5,244.1 275.1,260.1 275.7,275.1 276.3,289 276.9,301.7 277.6,313.2 278.2,323.6 278.8,332.8 279.4,340.9 280,348 280.6,354.2 281.3,359.5 281.9,364 282.5,367.9 283.1,371.2 283.7,373.9 284.3,376.3 284.9,378.2 285.6,379.9 286.2,381.3 286.8,382.5 287.4,383.5 288,384.4 288.6,385.1 289.2,385.8 289.9,386.4 290.5,386.9 291.1,387.3 291.7,387.7 292.3,388.1 292.9,388.5 293.6,388.8 294.2,389.1 294.8,389.4 295.4,389.6 296,389.9 296.6,390.1 297.2,390.3 297.9,390.5 298.5,390.7 299.1,390.9 299.7,391.1 300.3,391.3 300.9,391.5 301.5,391.7 302.2,391.9 302.8,392 303.4,392.2 304,392.3 304.6,392.4 305.2,392.6 305.9,392.7 306.5,392.8 307.1,392.9 307.7,393.1 308.3,393.2 308.9,393.3 309.5,393.4 310.2,393.5 310.8,393.6 311.4,393.7 312,393.8 312.6,393.8 313.2,393.9 313.8,394 314.5,394.1 315.1,394.2 315.7,394.3 316.3,394.3 316.9,394.4 317.5,394.5 318.2,394.6 318.8,394.6 319.4,394.7 320,394.8 320.6,394.8 321.2,394.9 321.8,395 322.5,395 323.1,395.1 323.7,395.2 324.3,395.2 324.9,395.3 325.5,395.3 326.1,395.4 326.8,395.4 327.4,395.5 328,395.6 328.6,395.6 329.2,395.7 329.8,395.7 330.5,395.8 331.1,395.8 331.7,395.9 332.3,395.9 332.9,396 333.5,396 334.1,396.1 334.8,396.1 335.4,396.2 336,396.2 336.6,396.3 337.2,396.3 337.8,396.3 338.4,396.4 339.1,396.4 339.7,396.5 340.3,396.5 340.9,396.5 341.5,396.6 342.1,396.6 342.8,396.7 343.4,396.7 344,396.7 344.6,396.8 345.2,396.8 345.8,396.8 346.4,396.9 347.1,396.9 347.7,396.9 348.3,397 348.9,397 349.5,397 350.1,397 350.7,397.1 351.4,397.1 352,397.1 352.6,397.1 353.2,397.1 353.8,397.2 354.4,397.2 355.1,397.2 355.7,397.2 356.3,397.2 356.9,397.2 357.5,397.2 358.1,397.3 358.7,397.3 359.4,397.3 360,397.3 360.6,397.3 361.2,397.3 361.8,397.3 362.4,397.3 363,397.3 363.7,397.3 364.3,397.3 364.9,397.3 365.5,397.3 366.1,397.3 366.7,397.3 367.4,397.3 368,397.3 368.6,397.2 369.2,397.2 369.8,397.2 370.4,397.2 371,397.2 371.7,397.2 372.3,397.2 372.9,397.2 373.5,397.2 374.1,397.2 374.7,397.2 375.3,397.2 376,397.1 376.6,397.1 377.2,397.1 377.8,397.1 378.4,397.1 379,397.1 379.7,397.1 380.3,397.1 380.9,397.1 381.5,397 382.1,397 382.7,397 383.3,397 384,397 384.6,397 385.2,397 385.8,397 386.4,397 387,396.9 387.6,396.9 388.3,396.9 388.9,396.9 389.5,396.9 390.1,396.9 390.7,396.9 391.3,396.9 392,396.9 392.6,396.9 393.2,396.8 393.8,396.8 394.4,396.8 395,396.8 395.6,396.8 396.3,396.8 396.9,396.7 397.5,396.7 398.1,396.7 398.7,396.7 399.3,396.6 399.9,396.6 400.6,396.5 401.2,396.5 401.8,396.4 402.4,396.3 403,396.3 403.6,396.2 404.2,396.1 404.9,396 405.5,395.8 406.1,395.7 406.7,395.5 407.3,395.3 407.9,395.1 408.6,394.9 409.2,394.7 409.8,394.4 410.4,394.1 411,393.8 411.6,393.5 412.2,393.1 412.9,392.7 413.5,392.3 414.1,391.8 414.7,391.4 415.3,390.9 415.9,390.3 416.6,389.8 417.2,389.2 417.8,388.6 418.4,388 419,387.4 419.6,386.8 420.2,386.2 420.9,385.5 421.5,384.9 422.1,384.3 422.7,383.7 423.3,383.1 423.9,382.5 424.5,382 425.2,381.5 425.8,381 426.4,380.6 427,380.2 427.6,379.8 428.2,379.5 428.9,379.3 429.5,379.1 430.1,379 430.7,378.9 431.3,378.9 431.9,379 432.5,379.1 433.2,379.3 433.8,379.6 434.4,379.9 435,380.2 435.6,380.6 436.2,381.1 436.8,381.6 437.5,382.1 438.1,382.7 438.7,383.3 439.3,384 439.9,384.6 440.5,385.3 441.2,386 441.8,386.6 442.4,387.3 443,388 443.6,388.7 444.2,389.4 444.8,390 445.5,390.7 446.1,391.3 446.7,391.9 447.3,392.5 447.9,393 448.5,393.5 449.1,394 449.8,394.5 450.4,394.9 451,395.3 451.6,395.7 452.2,396.1 452.8,396.4 453.5,396.7 454.1,397 454.7,397.2 455.3,397.4 455.9,397.6 456.5,397.8 457.1,397.9 457.8,398.1 458.4,398.2 459,398.3 459.6,398.3 460.2,398.4 460.8,398.4 461.4,398.4 462.1,398.4 462.7,398.4 463.3,398.3 463.9,398.3 464.5,398.2 465.1,398.1 465.8,398 466.4,397.8 467,397.7 467.6,397.5 468.2,397.3 468.8,397 469.4,396.8 470.1,396.5 470.7,396.2 471.3,395.9 471.9,395.6 472.5,395.3 473.1,395 473.7,394.6 474.4,394.3 475,394 475.6,393.7 476.2,393.3 476.8,393.1 477.4,392.8 478.1,392.5 478.7,392.3 479.3,392.2 479.9,392 480.5,391.9 481.1,391.9 481.7,391.8 482.4,391.9 483,391.9 483.6,392 484.2,392.2 484.8,392.3 485.4,392.5 486,392.8 486.7,393.1 487.3,393.3 487.9,393.7 488.5,394 489.1,394.3 489.7,394.6 490.4,395 491,395.3 491.6,395.6 492.2,396 492.8,396.3 493.4,396.5 494,396.8 494.7,397.1 495.3,397.3 495.9,397.5 496.5,397.7 497.1,397.9 497.7,398.1 498.3,398.2 499,398.4 499.6,398.5 500.2,398.6 500.8,398.7 501.4,398.8 502,398.8 502.7,398.9 503.3,398.9 503.9,399 504.5,399 505.1,399 505.7,399.1 506.3,399.1 507,399.1 507.6,399.1 508.2,399.1 508.8,399.1 509.4,399.1 510,399.1 510.6,399.1 511.3,399.2 511.9,399.2 512.5,399.2 513.1,399.2 513.7,399.3 514.3,399.3 515,399.3 515.6,399.3 516.2,399.4 516.8,399.4 517.4,399.5 518,399.5 518.6,399.6 519.3,399.6 519.9,399.6 520.5,399.7 521.1,399.7 521.7,399.8 522.3,399.9 522.9,399.9 523.6,400 524.2,400 524.8,400.1 525.4,400.1 526,400.2 526.6,400.3 527.3,400.3 527.9,400.4 528.5,400.4 529.1,400.5 529.7,400.6 530.3,400.6 530.9,400.7 531.6,400.7 532.2,400.8 532.8,400.9 533.4,400.9 534,401 534.6,401 535.2,401.1 535.9,401.1 536.5,401.2 537.1,401.2 537.7,401.3 538.3,401.3 538.9,401.4 539.6,401.4 540.2,401.5 540.8,401.5 541.4,401.5 542,401.6 542.6,401.6 543.2,401.6 543.9,401.6 544.5,401.7 545.1,401.7 545.7,401.7 546.3,401.7 546.9,401.7 547.5,401.7 548.2,401.8 548.8,401.8 549.4,401.8 550,401.8 550.6,401.8 551.2,401.8 551.9,401.8 552.5,401.8 553.1,401.9 553.7,401.9 554.3,401.9 554.9,401.9 555.5,401.9 556.2,401.9 556.8,401.9 557.4,401.9 558,401.9 558.6,402 559.2,402 559.8,402 560.5,402 561.1,402 561.7,402 562.3,402 562.9,402 563.5,402 564.2,402.1 564.8,402.1 565.4,402.1 566,402.1 566.6,402.1 567.2,402.1 567.8,402.1 568.5,402.1 569.1,402.1 569.7,402.1 570.3,402.2 570.9,402.2 571.5,402.2 572.1,402.2 572.8,402.2 573.4,402.2 574,402.2 574.6,402.2 575.2,402.2 575.8,402.2 576.5,402.2 577.1,402.2 577.7,402.2 578.3,402.3 578.9,402.3 579.5,402.3 580.1,402.3 580.8,402.3 581.4,402.3 582,402.3 582.6,402.3 583.2,402.3 583.8,402.3 584.4,402.3 585.1,402.3 585.7,402.3 586.3,402.3 586.9,402.3 587.5,402.4 588.1,402.4 588.8,402.4 589.4,402.4 590,402.4 590.6,402.4 591.2,402.4 591.8,402.4 592.4,402.4 593.1,402.4 593.7,402.4 594.3,402.4 594.9,402.4 595.5,402.4 596.1,402.4 596.7,402.4 597.4,402.4 598,402.4 598.6,402.4 599.2,402.4 599.8,402.4 600.4,402.4 601.1,402.4 601.7,402.4 602.3,402.4 602.9,402.4 603.5,402.4 604.1,402.4 604.7,402.4 605.4,402.4 606,402.4 606.6,402.4 607.2,402.4" fill="none" stroke="#f0f" stroke-width="1.8"/>
<polyline points="115.2,376.3 115.8,376.3 116.4,376.3 117,376.3 117.7,376.3 118.3,376.3 118.9,376.3 119.5,376.3 120.1,376.3 120.7,376.3 121.4,376.3 122,376.3 122.6,376.3 123.2,376.3 123.8,376.3 124.4,376.3 125,376.3 125.7,376.3 126.3,376.3 126.9,376.3 127.5,376.3 128.1,376.3 128.7,376.3 129.3,376.3 130,376.3 130.6,376.3 131.2,376.3 131.8,376.4 132.4,376.5 133,376.6 133.7,376.7 134.3,376.8 134.9,377 135.5,377.2 136.1,377.3 136.7,377.5 137.3,377.7 138,378 138.6,378.2 139.2,378.4 139.8,378.7 140.4,378.9 141,379.2 141.6,379.5 142.3,379.7 142.9,380 143.5,380.3 144.1,380.6 144.7,380.8 145.3,381.1 146,381.4 146.6,381.6 147.2,381.9 147.8,382.1 148.4,382.4 149,382.6 149.6,382.8 150.3,383 150.9,383.2 151.5,383.4 152.1,383.6 152.7,383.8 153.3,383.9 153.9,384.1 154.6,384.3 155.2,384.4 155.8,384.6 156.4,384.8 157,384.9 157.6,385.1 158.2,385.3 158.9,385.5 159.5,385.6 160.1,385.8 160.7,386 161.3,386.1 161.9,386.3 162.6,386.5 163.2,386.6 163.8,386.8 164.4,386.9 165,387.1 165.6,387.2 166.2,387.4 166.9,387.5 167.5,387.7 168.1,387.8 168.7,387.9 169.3,388 169.9,388.2 170.6,388.3 171.2,388.4 171.8,388.5 172.4,388.6 173,388.6 173.6,388.7 174.2,388.8 174.9,388.9 175.5,388.9 176.1,389 176.7,389 177.3,389 177.9,389.1 178.5,389.1 179.2,389.1 179.8,389.1 180.4,389.2 181,389.2 181.6,389.2 182.2,389.2 182.9,389.2 183.5,389.2 184.1,389.3 184.7,389.3 185.3,389.3 185.9,389.3 186.5,389.3 187.2,389.3 187.8,389.3 188.4,389.3 189,389.3 189.6,389.3 190.2,389.3 190.8,389.3 191.5,389.3 192.1,389.3 192.7,389.3 193.3,389.3 193.9,389.3 194.5,389.3 195.2,389.3 195.8,389.3 196.4,389.3 197,389.3 197.6,389.3 198.2,389.4 198.8,389.4 199.5,389.4 200.1,389.4 200.7,389.4 201.3,389.4 201.9,389.4 202.5,389.4 203.1,389.4 203.8,389.4 204.4,389.4 205,389.4 205.6,389.4 206.2,389.4 206.8,389.5 207.5,389.5 208.1,389.5 208.7,389.5 209.3,389.5 209.9,389.5 210.5,389.5 211.1,389.4 211.8,389.4 212.4,389.4 213,389.3 213.6,389.3 214.2,389.2 214.8,389.1 215.4,389 216.1,388.9 216.7,388.8 217.3,388.6 217.9,388.4 218.5,388.2 219.1,387.9 219.8,387.6 220.4,387.3 221,386.9 221.6,386.5 222.2,386 222.8,385.4 223.4,384.8 224.1,384.2 224.7,383.5 225.3,382.7 225.9,381.8 226.5,380.9 227.1,379.9 227.7,378.8 228.4,377.7 229,376.5 229.6,375.2 230.2,373.9 230.8,372.4 231.4,370.9 232.1,369.4 232.7,367.8 233.3,366.1 233.9,364.4 234.5,362.7 235.1,360.9 235.7,359.1 236.4,357.3 237,355.5 237.6,353.8 238.2,352 238.8,350.3 239.4,348.5 240,346.9 240.7,345.3 241.3,343.7 241.9,342.2 242.5,340.8 243.1,339.4 243.7,338 244.4,336.7 245,335.5 245.6,334.2 246.2,332.9 246.8,331.6 247.4,330.2 248,328.8 248.7,327.2 249.3,325.4 249.9,323.3 250.5,321 251.1,318.4 251.7,315.3 252.3,311.8 253,307.8 253.6,303.2 254.2,298 254.8,292.1 255.4,285.5 256,278.1 256.7,270 257.3,261.1 257.9,251.5 258.5,241.1 259.1,230 259.7,218.2 260.3,206 261,193.3 261.6,180.3 262.2,167.2 262.8,154.3 263.4,141.8 264,129.9 264.6,119.1 265.3,109.6 265.9,101.8 266.5,96 267.1,92.4 267.7,91.3 268.3,93.3 269,99.8 269.6,110.4 270.2,124.1 270.8,140.4 271.4,158.1 272,176.8 272.6,195.6 273.3,214.2 273.9,232.3 274.5,249.5 275.1,265.7 275.7,280.8 276.3,294.7 276.9,307.3 277.6,318.7 278.2,328.9 278.8,338 279.4,345.9 280,352.9 280.6,358.9 281.3,364.1 281.9,368.5 282.5,372.3 283.1,375.6 283.7,378.3 284.3,380.6 284.9,382.6 285.6,384.3 286.2,385.8 286.8,387 287.4,388.1 288,389.1 288.6,389.9 289.2,390.7 289.9,391.3 290.5,391.9 291.1,392.5 291.7,393 292.3,393.5 292.9,393.9 293.6,394.3 294.2,394.7 294.8,395 295.4,395.3 296,395.6 296.6,395.9 297.2,396.2 297.9,396.4 298.5,396.6 299.1,396.8 299.7,397 300.3,397.2 300.9,397.4 301.5,397.6 302.2,397.7 302.8,397.9 303.4,398 304,398.2 304.6,398.3 305.2,398.4 305.9,398.5 306.5,398.6 307.1,398.7 307.7,398.8 308.3,398.9 308.9,399 309.5,399.1 310.2,399.2 310.8,399.3 311.4,399.3 312,399.4 312.6,399.5 313.2,399.5 313.8,399.6 314.5,399.6 315.1,399.7 315.7,399.7 316.3,399.8 316.9,399.8 317.5,399.8 318.2,399.9 318.8,399.9 319.4,400 320,400 320.6,400 321.2,400 321.8,400.1 322.5,400.1 323.1,400.1 323.7,400.1 324.3,400.2 324.9,400.2 325.5,400.2 326.1,400.2 326.8,400.2 327.4,400.2 328,400.3 328.6,400.3 329.2,400.3 329.8,400.3 330.5,400.3 331.1,400.3 331.7,400.3 332.3,400.3 332.9,400.3 333.5,400.3 334.1,400.3 334.8,400.3 335.4,400.3 336,400.3 336.6,400.3 337.2,400.3 337.8,400.3 338.4,400.3 339.1,400.3 339.7,400.3 340.3,400.3 340.9,400.3 341.5,400.3 342.1,400.3 342.8,400.3 343.4,400.3 344,400.3 344.6,400.3 345.2,400.3 345.8,400.3 346.4,400.3 347.1,400.3 347.7,400.3 348.3,400.2 348.9,400.2 349.5,400.2 350.1,400.2 350.7,400.2 351.4,400.2 352,400.2 352.6,400.2 353.2,400.2 353.8,400.2 354.4,400.2 355.1,400.1 355.7,400.1 356.3,400.1 356.9,400.1 357.5,400.1 358.1,400.1 358.7,400.1 359.4,400.1 360,400 360.6,400 361.2,400 361.8,400 362.4,400 363,400 363.7,400 364.3,399.9 364.9,399.9 365.5,399.9 366.1,399.9 366.7,399.8 367.4,399.8 368,399.8 368.6,399.7 369.2,399.7 369.8,399.7 370.4,399.6 371,399.6 371.7,399.6 372.3,399.5 372.9,399.5 373.5,399.4 374.1,399.4 374.7,399.4 375.3,399.3 376,399.3 376.6,399.2 377.2,399.2 377.8,399.2 378.4,399.1 379,399.1 379.7,399 380.3,399 380.9,398.9 381.5,398.9 382.1,398.9 382.7,398.8 383.3,398.8 384,398.7 384.6,398.7 385.2,398.7 385.8,398.6 386.4,398.6 387,398.6 387.6,398.5 388.3,398.5 388.9,398.5 389.5,398.4 390.1,398.4 390.7,398.4 391.3,398.4 392,398.3 392.6,398.3 393.2,398.3 393.8,398.3 394.4,398.2 395,398.2 395.6,398.2 396.3,398.2 396.9,398.2 397.5,398.1 398.1,398.1 398.7,398.1 399.3,398.1 399.9,398 400.6,398 401.2,398 401.8,397.9 402.4,397.9 403,397.8 403.6,397.8 404.2,397.7 404.9,397.6 405.5,397.5 406.1,397.4 406.7,397.3 407.3,397.2 407.9,397 408.6,396.9 409.2,396.7 409.8,396.5 410.4,396.2 411,396 411.6,395.7 412.2,395.4 412.9,395.1 413.5,394.8 414.1,394.4 414.7,394 415.3,393.6 415.9,393.2 416.6,392.7 417.2,392.3 417.8,391.8 418.4,391.2 419,390.7 419.6,390.2 420.2,389.6 420.9,389 421.5,388.5 422.1,387.9 422.7,387.3 423.3,386.7 423.9,386.2 424.5,385.6 425.2,385.1 425.8,384.6 426.4,384.2 427,383.7 427.6,383.3 428.2,383 428.9,382.7 429.5,382.4 430.1,382.2 430.7,382 431.3,381.9 431.9,381.8 432.5,381.8 433.2,381.9 433.8,382 434.4,382.2 435,382.4 435.6,382.6 436.2,383 436.8,383.3 437.5,383.7 438.1,384.2 438.7,384.7 439.3,385.2 439.9,385.7 440.5,386.3 441.2,386.9 441.8,387.5 442.4,388.1 443,388.7 443.6,389.3 444.2,390 444.8,390.6 445.5,391.2 446.1,391.8 446.7,392.3 447.3,392.9 447.9,393.4 448.5,394 449.1,394.5 449.8,394.9 450.4,395.4 451,395.8 451.6,396.2 452.2,396.6 452.8,396.9 453.5,397.2 454.1,397.5 454.7,397.8 455.3,398.1 455.9,398.3 456.5,398.5 457.1,398.7 457.8,398.9 458.4,399 459,399.1 459.6,399.2 460.2,399.3 460.8,399.4 461.4,399.5 462.1,399.6 462.7,399.6 463.3,399.6 463.9,399.6 464.5,399.6 465.1,399.6 465.8,399.6 466.4,399.5 467,399.5 467.6,399.4 468.2,399.3 468.8,399.1 469.4,399 470.1,398.8 470.7,398.6 471.3,398.4 471.9,398.2 472.5,397.9 473.1,397.6 473.7,397.3 474.4,397 475,396.6 475.6,396.2 476.2,395.8 476.8,395.4 477.4,395 478.1,394.6 478.7,394.2 479.3,393.8 479.9,393.4 480.5,393 481.1,392.7 481.7,392.3 482.4,392 483,391.8 483.6,391.5 484.2,391.4 484.8,391.2 485.4,391.2 486,391.2 486.7,391.2 487.3,391.3 487.9,391.4 488.5,391.6 489.1,391.8 489.7,392.1 490.4,392.4 491,392.7 491.6,393.1 492.2,393.5 492.8,393.9 493.4,394.3 494,394.7 494.7,395.1 495.3,395.6 495.9,396 496.5,396.4 497.1,396.8 497.7,397.1 498.3,397.5 499,397.8 499.6,398.1 500.2,398.4 500.8,398.7 501.4,398.9 502,399.1 502.7,399.3 503.3,399.5 503.9,399.6 504.5,399.8 505.1,399.9 505.7,400 506.3,400.1 507,400.2 507.6,400.2 508.2,400.3 508.8,400.3 509.4,400.4 510,400.4 510.6,400.5 511.3,400.5 511.9,400.5 512.5,400.5 513.1,400.6 513.7,400.6 514.3,400.6 515,400.6 515.6,400.7 516.2,400.7 516.8,400.7 517.4,400.7 518,400.7 518.6,400.8 519.3,400.8 519.9,400.8 520.5,400.8 521.1,400.9 521.7,400.9 522.3,400.9 522.9,400.9 523.6,400.9 524.2,401 524.8,401 525.4,401 526,401 526.6,401.1 527.3,401.1 527.9,401.1 528.5,401.1 529.1,401.2 529.7,401.2 530.3,401.2 530.9,401.2 531.6,401.3 532.2,401.3 532.8,401.3 533.4,401.3 534,401.4 534.6,401.4 535.2,401.4 535.9,401.4 536.5,401.4 537.1,401.5 537.7,401.5 538.3,401.5 538.9,401.5 539.6,401.6 540.2,401.6 540.8,401.6 541.4,401.6 542,401.6 542.6,401.6 543.2,401.7 543.9,401.7 544.5,401.7 545.1,401.7 545.7,401.7 546.3,401.7 546.9,401.7 547.5,401.7 548.2,401.7 548.8,401.8 549.4,401.8 550,401.8 550.6,401.8 551.2,401.8 551.9,401.8 552.5,401.8 553.1,401.8 553.7,401.8 554.3,401.9 554.9,401.9 555.5,401.9 556.2,401.9 556.8,401.9 557.4,401.9 558,401.9 558.6,401.9 559.2,401.9 559.8,402 560.5,402 561.1,402 561.7,402 562.3,402 562.9,402 563.5,402 564.2,402 564.8,402 565.4,402 566,402.1 566.6,402.1 567.2,402.1 567.8,402.1 568.5,402.1 569.1,402.1 569.7,402.1 570.3,402.1 570.9,402.1 571.5,402.1 572.1,402.1 572.8,402.2 573.4,402.2 574,402.2 574.6,402.2 575.2,402.2 575.8,402.2 576.5,402.2 577.1,402.2 577.7,402.2 578.3,402.2 578.9,402.2 579.5,402.2 580.1,402.3 580.8,402.3 581.4,402.3 582,402.3 582.6,402.3 583.2,402.3 583.8,402.3 584.4,402.3 585.1,402.3 585.7,402.3 586.3,402.3 586.9,402.3 587.5,402.3 588.1,402.3 588.8,402.3 589.4,402.4 590,402.4 590.6,402.4 591.2,402.4 591.8,402.4 592.4,402.4 593.1,402.4 593.7,402.4 594.3,402.4 594.9,402.4 595.5,402.4 596.1,402.4 596.7,402.4 597.4,402.4 598,402.4 598.6,402.4 599.2,402.4 599.8,402.4 600.4,402.4 601.1,402.4 601.7,402.4 602.3,402.4 602.9,402.4 603.5,402.4 604.1,402.4 604.7,402.4 605.4,402.4 606,402.4 606.6,402.4 607.2,402.4" fill="none" stroke="#008000" stroke-width="1.8"/>
<polyline points="115.2,376.8 115.8,376.7 116.4,376.5 117,376.4 117.7,376.2 118.3,376.1 118.9,376 119.5,375.9 120.1,375.8 120.7,375.8 121.4,375.7 122,375.6 122.6,375.6 123.2,375.5 123.8,375.5 124.4,375.5 125,375.4 125.7,375.4 126.3,375.4 126.9,375.4 127.5,375.4 128.1,375.4 128.7,375.4 129.3,375.4 130,375.4 130.6,375.4 131.2,375.4 131.8,375.5 132.4,375.6 133,375.7 133.7,375.9 134.3,376 134.9,376.2 135.5,376.4 136.1,376.6 136.7,376.9 137.3,377.1 138,377.4 138.6,377.6 139.2,377.9 139.8,378.2 140.4,378.5 141,378.8 141.6,379.1 142.3,379.4 142.9,379.7 143.5,380 144.1,380.3 144.7,380.7 145.3,381 146,381.3 146.6,381.5 147.2,381.8 147.8,382.1 148.4,382.4 149,382.6 149.6,382.8 150.3,383.1 150.9,383.3 151.5,383.4 152.1,383.6 152.7,383.8 153.3,383.9 153.9,384.1 154.6,384.2 155.2,384.3 155.8,384.5 156.4,384.6 157,384.8 157.6,384.9 158.2,385.1 158.9,385.2 159.5,385.3 160.1,385.5 160.7,385.6 161.3,385.7 161.9,385.8 162.6,386 163.2,386.1 163.8,386.2 164.4,386.3 165,386.4 165.6,386.5 166.2,386.7 166.9,386.8 167.5,386.9 168.1,387 168.7,387.1 169.3,387.2 169.9,387.3 170.6,387.4 171.2,387.4 171.8,387.5 172.4,387.6 173,387.7 173.6,387.8 174.2,387.9 174.9,387.9 175.5,388 176.1,388.1 176.7,388.1 177.3,388.2 177.9,388.3 178.5,388.3 179.2,388.4 179.8,388.4 180.4,388.5 181,388.5 181.6,388.6 182.2,388.6 182.9,388.7 183.5,388.7 184.1,388.7 184.7,388.8 185.3,388.8 185.9,388.8 186.5,388.9 187.2,388.9 187.8,389 188.4,389 189,389 189.6,389 190.2,389.1 190.8,389.1 191.5,389.1 192.1,389.2 192.7,389.2 193.3,389.2 193.9,389.3 194.5,389.3 195.2,389.3 195.8,389.4 196.4,389.4 197,389.4 197.6,389.5 198.2,389.5 198.8,389.5 199.5,389.6 200.1,389.6 200.7,389.7 201.3,389.7 201.9,389.7 202.5,389.8 203.1,389.8 203.8,389.9 204.4,389.9 205,389.9 205.6,390 206.2,390 206.8,390.1 207.5,390.1 208.1,390.1 208.7,390.2 209.3,390.2 209.9,390.2 210.5,390.3 211.1,390.3 211.8,390.3 212.4,390.3 213,390.4 213.6,390.4 214.2,390.4 214.8,390.4 215.4,390.3 216.1,390.3 216.7,390.3 217.3,390.2 217.9,390.2 218.5,390.1 219.1,390 219.8,389.8 220.4,389.7 221,389.5 221.6,389.3 222.2,389 222.8,388.8 223.4,388.4 224.1,388.1 224.7,387.7 225.3,387.2 225.9,386.7 226.5,386.1 227.1,385.5 227.7,384.8 228.4,384.1 229,383.3 229.6,382.4 230.2,381.5 230.8,380.5 231.4,379.4 232.1,378.3 232.7,377.1 233.3,375.8 233.9,374.5 234.5,373.1 235.1,371.7 235.7,370.2 236.4,368.7 237,367.1 237.6,365.6 238.2,364 238.8,362.4 239.4,360.8 240,359.3 240.7,357.8 241.3,356.3 241.9,354.8 242.5,353.5 243.1,352.1 243.7,350.9 244.4,349.7 245,348.7 245.6,347.7 246.2,346.8 246.8,345.9 247.4,345.2 248,344.5 248.7,343.9 249.3,343.3 249.9,342.7 250.5,342.1 251.1,341.5 251.7,340.8 252.3,339.9 253,338.8 253.6,337.5 254.2,335.8 254.8,333.7 255.4,331.1 256,327.9 256.7,324 257.3,319.3 257.9,313.7 258.5,307.2 259.1,299.6 259.7,291 260.3,281.2 261,270.3 261.6,258.2 262.2,245.1 262.8,231.1 263.4,216.2 264,200.6 264.6,184.8 265.3,168.9 265.9,153.6 266.5,139.3 267.1,126.7 267.7,116.4 268.3,109.2 269,105.6 269.6,105.9 270.2,110.5 270.8,119.2 271.4,131.2 272,145.9 272.6,162.4 273.3,179.9 273.9,197.9 274.5,215.8 275.1,233.3 275.7,250.1 276.3,265.9 276.9,280.8 277.6,294.5 278.2,307 278.8,318.4 279.4,328.5 280,337.6 280.6,345.6 281.3,352.6 281.9,358.7 282.5,363.9 283.1,368.5 283.7,372.3 284.3,375.6 284.9,378.4 285.6,380.8 286.2,382.8 286.8,384.5 287.4,386 288,387.3 288.6,388.4 289.2,389.3 289.9,390.2 290.5,390.9 291.1,391.6 291.7,392.2 292.3,392.7 292.9,393.2 293.6,393.7 294.2,394.1 294.8,394.5 295.4,394.8 296,395.2 296.6,395.5 297.2,395.8 297.9,396 298.5,396.3 299.1,396.5 299.7,396.8 300.3,397 300.9,397.2 301.5,397.3 302.2,397.5 302.8,397.7 303.4,397.8 304,398 304.6,398.1 305.2,398.3 305.9,398.4 306.5,398.5 307.1,398.6 307.7,398.7 308.3,398.8 308.9,398.9 309.5,399 310.2,399.1 310.8,399.2 311.4,399.2 312,399.3 312.6,399.4 313.2,399.4 313.8,399.5 314.5,399.5 315.1,399.6 315.7,399.7 316.3,399.7 316.9,399.7 317.5,399.8 318.2,399.8 318.8,399.9 319.4,399.9 320,399.9 320.6,400 321.2,400 321.8,400 322.5,400.1 323.1,400.1 323.7,400.1 324.3,400.1 324.9,400.1 325.5,400.2 326.1,400.2 326.8,400.2 327.4,400.2 328,400.2 328.6,400.2 329.2,400.3 329.8,400.3 330.5,400.3 331.1,400.3 331.7,400.3 332.3,400.3 332.9,400.3 333.5,400.3 334.1,400.3 334.8,400.3 335.4,400.3 336,400.3 336.6,400.3 337.2,400.3 337.8,400.3 338.4,400.3 339.1,400.3 339.7,400.3 340.3,400.3 340.9,400.3 341.5,400.3 342.1,400.3 342.8,400.3 343.4,400.3 344,400.3 344.6,400.3 345.2,400.3 345.8,400.3 346.4,400.3 347.1,400.3 347.7,400.2 348.3,400.2 348.9,400.2 349.5,400.2 350.1,400.2 350.7,400.2 351.4,400.2 352,400.2 352.6,400.2 353.2,400.2 353.8,400.2 354.4,400.1 355.1,400.1 355.7,400.1 356.3,400.1 356.9,400.1 357.5,400.1 358.1,400.1 358.7,400.1 359.4,400.1 360,400 360.6,400 361.2,400 361.8,400 362.4,400 363,400 363.7,399.9 364.3,399.9 364.9,399.9 365.5,399.9 366.1,399.9 366.7,399.8 367.4,399.8 368,399.8 368.6,399.7 369.2,399.7 369.8,399.7 370.4,399.6 371,399.6 371.7,399.6 372.3,399.5 372.9,399.5 373.5,399.4 374.1,399.4 374.7,399.4 375.3,399.3 376,399.3 376.6,399.2 377.2,399.2 377.8,399.2 378.4,399.1 379,399.1 379.7,399 380.3,399 380.9,398.9 381.5,398.9 382.1,398.9 382.7,398.8 383.3,398.8 384,398.7 384.6,398.7 385.2,398.7 385.8,398.6 386.4,398.6 387,398.6 387.6,398.5 388.3,398.5 388.9,398.5 389.5,398.4 390.1,398.4 390.7,398.4 391.3,398.4 392,398.3 392.6,398.3 393.2,398.3 393.8,398.3 394.4,398.2 395,398.2 395.6,398.2 396.3,398.2 396.9,398.2 397.5,398.1 398.1,398.1 398.7,398.1 399.3,398.1 399.9,398 400.6,398 401.2,398 401.8,397.9 402.4,397.9 403,397.8 403.6,397.7 404.2,397.7 404.9,397.6 405.5,397.5 406.1,397.4 406.7,397.2 407.3,397.1 407.9,396.9 408.6,396.7 409.2,396.5 409.8,396.3 410.4,396 411,395.8 411.6,395.5 412.2,395.1 412.9,394.8 413.5,394.4 414.1,393.9 414.7,393.5 415.3,393 415.9,392.5 416.6,391.9 417.2,391.4 417.8,390.8 418.4,390.2 419,389.5 419.6,388.8 420.2,388.2 420.9,387.5 421.5,386.8 422.1,386 422.7,385.3 423.3,384.6 423.9,383.9 424.5,383.2 425.2,382.5 425.8,381.9 426.4,381.3 427,380.7 427.6,380.1 428.2,379.6 428.9,379.2 429.5,378.8 430.1,378.5 430.7,378.2 431.3,378 431.9,377.8 432.5,377.7 433.2,377.7 433.8,377.8 434.4,377.9 435,378.1 435.6,378.4 436.2,378.7 436.8,379.1 437.5,379.5 438.1,380 438.7,380.6 439.3,381.2 439.9,381.8 440.5,382.5 441.2,383.2 441.8,383.9 442.4,384.6 443,385.4 443.6,386.2 444.2,386.9 444.8,387.7 445.5,388.4 446.1,389.2 446.7,389.9 447.3,390.6 447.9,391.3 448.5,392 449.1,392.6 449.8,393.2 450.4,393.8 451,394.3 451.6,394.9 452.2,395.3 452.8,395.8 453.5,396.2 454.1,396.6 454.7,397 455.3,397.3 455.9,397.6 456.5,397.9 457.1,398.1 457.8,398.3 458.4,398.5 459,398.7 459.6,398.8 460.2,398.9 460.8,399 461.4,399.1 462.1,399.1 462.7,399.1 463.3,399.1 463.9,399.1 464.5,399 465.1,398.9 465.8,398.8 466.4,398.7 467,398.5 467.6,398.3 468.2,398.1 468.8,397.8 469.4,397.5 470.1,397.2 470.7,396.8 471.3,396.4 471.9,396 472.5,395.6 473.1,395.1 473.7,394.6 474.4,394.1 475,393.7 475.6,393.2 476.2,392.7 476.8,392.2 477.4,391.7 478.1,391.3 478.7,390.9 479.3,390.5 479.9,390.2 480.5,389.9 481.1,389.6 481.7,389.5 482.4,389.4 483,389.3 483.6,389.3 484.2,389.4 484.8,389.5 485.4,389.7 486,390 486.7,390.3 487.3,390.6 487.9,391 488.5,391.4 489.1,391.9 489.7,392.4 490.4,392.9 491,393.4 491.6,393.9 492.2,394.4 492.8,394.9 493.4,395.4 494,395.8 494.7,396.3 495.3,396.7 495.9,397.1 496.5,397.5 497.1,397.8 497.7,398.2 498.3,398.5 499,398.7 499.6,399 500.2,399.2 500.8,399.4 501.4,399.5 502,399.7 502.7,399.8 503.3,399.9 503.9,400 504.5,400.1 505.1,400.2 505.7,400.2 506.3,400.3 507,400.3 507.6,400.4 508.2,400.4 508.8,400.4 509.4,400.5 510,400.5 510.6,400.5 511.3,400.5 511.9,400.6 512.5,400.6 513.1,400.6 513.7,400.6 514.3,400.6 515,400.6 515.6,400.7 516.2,400.7 516.8,400.7 517.4,400.7 518,400.7 518.6,400.8 519.3,400.8 519.9,400.8 520.5,400.8 521.1,400.9 521.7,400.9 522.3,400.9 522.9,400.9 523.6,400.9 524.2,401 524.8,401 525.4,401 526,401 526.6,401.1 527.3,401.1 527.9,401.1 528.5,401.1 529.1,401.2 529.7,401.2 530.3,401.2 530.9,401.2 531.6,401.3 532.2,401.3 532.8,401.3 533.4,401.3 534,401.4 534.6,401.4 535.2,401.4 535.9,401.4 536.5,401.4 537.1,401.5 537.7,401.5 538.3,401.5 538.9,401.5 539.6,401.6 540.2,401.6 540.8,401.6 541.4,401.6 542,401.6 542.6,401.6 543.2,401.7 543.9,401.7 544.5,401.7 545.1,401.7 545.7,401.7 546.3,401.7 546.9,401.7 547.5,401.7 548.2,401.7 548.8,401.8 549.4,401.8 550,401.8 550.6,401.8 551.2,401.8 551.9,401.8 552.5,401.8 553.1,401.8 553.7,401.8 554.3,401.9 554.9,401.9 555.5,401.9 556.2,401.9 556.8,401.9 557.4,401.9 558,401.9 558.6,401.9 559.2,401.9 559.8,402 560.5,402 561.1,402 561.7,402 562.3,402 562.9,402 563.5,402 564.2,402 564.8,402 565.4,402 566,402.1 566.6,402.1 567.2,402.1 567.8,402.1 568.5,402.1 569.1,402.1 569.7,402.1 570.3,402.1 570.9,402.1 571.5,402.1 572.1,402.1 572.8,402.2 573.4,402.2 574,402.2 574.6,402.2 575.2,402.2 575.8,402.2 576.5,402.2 577.1,402.2 577.7,402.2 578.3,402.2 578.9,402.2 579.5,402.2 580.1,402.3 580.8,402.3 581.4,402.3 582,402.3 582.6,402.3 583.2,402.3 583.8,402.3 584.4,402.3 585.1,402.3 585.7,402.3 586.3,402.3 586.9,402.3 587.5,402.3 588.1,402.3 588.8,402.3 589.4,402.4 590,402.4 590.6,402.4 591.2,402.4 591.8,402.4 592.4,402.4 593.1,402.4 593.7,402.4 594.3,402.4 594.9,402.4 595.5,402.4 596.1,402.4 596.7,402.4 597.4,402.4 598,402.4 598.6,402.4 599.2,402.4 599.8,402.4 600.4,402.4 601.1,402.4 601.7,402.4 602.3,402.4 602.9,402.4 603.5,402.4 604.1,402.4 604.7,402.4 605.4,402.4 606,402.4 606.6,402.4 607.2,402.4" fill="none" stroke="#000080" stroke-width="1.8"/>
</g>
<path d="M115.2 17.4V422.8M607.2 17.4V422.8" stroke="#000" stroke-width="2.0" fill="none"/>
<path d="M114.2 18.7H608.2M114.2 421.5H608.2" stroke="#000" stroke-width="2.5" fill="none"/>
<path d="M114.2 402.8h-7.2M114.2 311.4h-7.2M114.2 220h-7.2M114.2 128.6h-7.2M114.2 37.2h-7.2" stroke="#000" stroke-width="2.3" fill="none"/>
<path d="M114.2 357.1h-4M114.2 265.7h-4M114.2 174.3h-4M114.2 82.9h-4" stroke="#000" stroke-width="2.3" fill="none"/>
<path d="M115.2 422.8v7M238.2 422.8v7M361.2 422.8v7M484.2 422.8v7M607.2 422.8v7" stroke="#000" stroke-width="2.0" fill="none"/>
<path d="M176.7 422.8v3.5M299.7 422.8v3.5M422.7 422.8v3.5M545.7 422.8v3.5" stroke="#000" stroke-width="2.0" fill="none"/>
<text transform="translate(67.02 411.30) scale(0.8862 1)" font-size="29.15" stroke="#000">0.0</text>
<text transform="translate(67.02 319.90) scale(0.8862 1)" font-size="29.15" stroke="#000">1.0</text>
<text transform="translate(67.02 228.50) scale(0.8862 1)" font-size="29.15" stroke="#000">2.0</text>
<text transform="translate(67.02 137.10) scale(0.8862 1)" font-size="29.15" stroke="#000">3.0</text>
<text transform="translate(67.02 45.70) scale(0.8862 1)" font-size="29.15" stroke="#000">4.0</text>
<text transform="translate(93.32 456.00) scale(0.9067 1)" font-size="28.31" stroke="#000">300</text>
<text transform="translate(216.42 456.00) scale(0.9067 1)" font-size="28.31" stroke="#000">400</text>
<text transform="translate(339.23 456.00) scale(0.9067 1)" font-size="28.31" stroke="#000">500</text>
<text transform="translate(462.16 456.00) scale(0.9067 1)" font-size="28.31" stroke="#000">600</text>
<text transform="translate(585.07 456.00) scale(0.9067 1)" font-size="28.31" stroke="#000">700</text>
<text transform="translate(318.96 486.76) scale(0.9430 1)" font-size="29.60" stroke="#000">&#955; (nm)</text>
<text transform="translate(47.99 246.55) rotate(-90) scale(0.9591 1)" font-size="31.29" stroke="#000">Abs</text>
<text transform="translate(8.04 43.44) scale(1.0097 1)" font-size="38.82" stroke="#000">(a)</text>
<text transform="translate(200.52 76.42) scale(0.9184 1)" font-size="28.16" fill="#f00" stroke="#f00">Soret region</text>
<text transform="translate(395.96 353.85) scale(0.9115 1)" font-size="28.48" fill="#00f" stroke="#00f">Q region</text>
<line x1="435" y1="37" x2="491" y2="37" stroke="#000" stroke-width="1.5"/>
<text transform="translate(495.73 46.30) scale(0.9285 1)" font-size="26.15" stroke="#000">CAT-H</text>
<line x1="435" y1="69.6" x2="491" y2="69.6" stroke="#f00" stroke-width="1.5"/>
<text transform="translate(495.74 78.90) scale(0.9208 1)" font-size="26.15" stroke="#000">CAT-F</text>
<line x1="435" y1="101.8" x2="491" y2="101.8" stroke="#00f" stroke-width="1.5"/>
<text transform="translate(495.73 111.10) scale(0.9307 1)" font-size="26.15" stroke="#000">CAT-Cl</text>
<line x1="435" y1="133.9" x2="491" y2="133.9" stroke="#f0f" stroke-width="1.5"/>
<text transform="translate(495.73 143.20) scale(0.9241 1)" font-size="26.15" stroke="#000">CAT-Br</text>
<line x1="435" y1="166.9" x2="491" y2="166.9" stroke="#008000" stroke-width="1.5"/>
<text transform="translate(495.74 176.20) scale(0.9156 1)" font-size="26.15" stroke="#000">CAT-OMe</text>
<line x1="435" y1="202" x2="491" y2="202" stroke="#000080" stroke-width="1.5"/>
<text transform="translate(495.73 211.20) scale(0.9232 1)" font-size="26.15" stroke="#000">CAT-</text>
<text transform="translate(551.94 198.34) scale(0.7845 1)" font-size="15.73" font-weight="normal" font-style="italic">t</text>
<text transform="translate(555.57 211.20) scale(0.9232 1)" font-size="26.15" stroke="#000">Bu</text>
</g>
<g id="pb">
<g clip-path="url(#clb)">
<polyline points="745.2,419.8 753.3,402.1 761.5,374.9 769.6,352.8 777.8,335.8 785.9,323.3 794.1,310.4 802.2,300.4 810.3,292.3 818.5,285 826.6,279.1 834.8,273.9 842.9,270.2 851.1,267.3 859.2,263.6 867.3,262.1 875.5,259.9 883.6,258.7 891.8,257.7 899.9,256.5 908.1,255.5 916.2,254.8 924.3,254.4 932.5,254.1 940.6,254 948.8,254 956.9,254.1 965.1,254.1 973.2,254.3 981.3,254.5 989.5,254.7 997.6,265.8 1005.8,282 1013.9,296.8 1022.1,311.5 1030.2,324.4 1038.3,334.8 1046.5,343.7 1054.6,351.3 1062.8,357.9 1070.9,363.9 1079.1,369.5 1087.2,374.9 1095.3,379.7 1103.5,383.8 1111.6,387.6 1119.8,391 1127.9,394.1 1136.1,397 1144.2,399.7 1152.4,402.3 1160.5,404.6 1168.6,406.6 1176.8,408.3 1184.9,409.9 1193.1,411.3 1201.2,412.5 1209.4,413.4 1217.5,414.2 1225.6,414.9 1233.8,415.4" fill="none" stroke="#000" stroke-width="1.5" marker-start="url(#bsq)" marker-mid="url(#bsq)" marker-end="url(#bsq)"/>
<polyline points="745.2,419.8 753.3,386.7 761.5,358.3 769.6,331.4 777.8,310 785.9,290.1 794.1,275.4 802.2,262.1 810.3,251.1 818.5,240 826.6,231.2 834.8,223.8 842.9,217.5 851.1,211.3 859.2,206.8 867.3,202.4 875.5,198.8 883.6,195.8 891.8,193.5 899.9,191.4 908.1,188.9 916.2,186.9 924.3,185.7 932.5,184.7 940.6,184 948.8,183.4 956.9,182.9 965.1,182.5 973.2,182 981.3,181.6 989.5,181.4 997.6,202.4 1005.8,225.3 1013.9,245.2 1022.1,261.4 1030.2,276.9 1038.3,290.3 1046.5,301.2 1054.6,310.8 1062.8,319.5 1070.9,327.6 1079.1,335.1 1087.2,342.1 1095.3,348.7 1103.5,354.6 1111.6,359.9 1119.8,364.8 1127.9,369.3 1136.1,373.4 1144.2,377.2 1152.4,380.6 1160.5,383.8 1168.6,386.7 1176.8,389.2 1184.9,391.5 1193.1,393.6 1201.2,395.5 1209.4,397.2 1217.5,398.8 1225.6,400.2 1233.8,401.4" fill="none" stroke="#f00" stroke-width="1.5" marker-start="url(#bci)" marker-mid="url(#bci)" marker-end="url(#bci)"/>
<polyline points="745.2,419.8 753.3,383 761.5,349.8 769.6,316.6 777.8,287.9 785.9,261.4 794.1,240 802.2,221.6 810.3,204.6 818.5,191.4 826.6,178.1 834.8,167 842.9,156.7 851.1,147.9 859.2,140.5 867.3,134.6 875.5,129.5 883.6,125 891.8,121.3 899.9,118.5 908.1,116.2 916.2,114.5 924.3,113.2 932.5,112.1 940.6,111.1 948.8,110.3 956.9,109.7 965.1,109.1 973.2,108.6 981.3,108.2 989.5,108.1 997.6,131.7 1005.8,156.7 1013.9,182.5 1022.1,200.9 1030.2,219.4 1038.3,234.1 1046.5,248.8 1054.6,261.4 1062.8,273.7 1070.9,285 1079.1,294.5 1087.2,303.2 1095.3,311.2 1103.5,318.9 1111.6,326.4 1119.8,333.5 1127.9,340.2 1136.1,346.1 1144.2,351.4 1152.4,356.1 1160.5,360.5 1168.6,364.6 1176.8,368.5 1184.9,372.2 1193.1,375.6 1201.2,378.6 1209.4,381.2 1217.5,383.6 1225.6,385.6 1233.8,387.4" fill="none" stroke="#00f" stroke-width="1.5" marker-start="url(#bup)" marker-mid="url(#bup)" marker-end="url(#bup)"/>
<polyline points="745.2,419.8 753.3,368.2 761.5,320.3 769.6,276.9 777.8,246.6 785.9,217.9 794.1,195.8 802.2,176.6 810.3,158.9 818.5,147.1 826.6,136.1 834.8,127.2 842.9,120.6 851.1,114.7 859.2,110.3 867.3,108.1 875.5,106.1 883.6,104.8 891.8,104 899.9,103.7 908.1,103.9 916.2,104.5 924.3,105.1 932.5,106 940.6,107 948.8,108.3 956.9,109.6 965.1,110.6 973.2,111.7 981.3,114 989.5,129.5 997.6,156 1005.8,182.5 1013.9,203.9 1022.1,221.6 1030.2,239.3 1038.3,254 1046.5,268.7 1054.6,281.3 1062.8,291.6 1070.9,300.8 1079.1,309.6 1087.2,317.8 1095.3,325.5 1103.5,332.9 1111.6,340 1119.8,346.4 1127.9,352 1136.1,356.7 1144.2,360.8 1152.4,364.6 1160.5,368.2 1168.6,371.9 1176.8,375.5 1184.9,378.8 1193.1,381.9 1201.2,384.8 1209.4,387.6 1217.5,390.2 1225.6,392.6 1233.8,394.8" fill="none" stroke="#f0f" stroke-width="1.5" marker-start="url(#bdn)" marker-mid="url(#bdn)" marker-end="url(#bdn)"/>
<polyline points="745.2,419.8 753.3,388.9 761.5,366.4 769.6,346.9 777.8,330.7 785.9,315.9 794.1,303.4 802.2,291.2 810.3,280.9 818.5,272.1 826.6,263.6 834.8,256.2 842.9,247.7 851.1,240.7 859.2,234.1 867.3,228.2 875.5,223.1 883.6,217.9 891.8,214.2 899.9,210.5 908.1,207.6 916.2,203.9 924.3,201.7 932.5,199.1 940.6,196.5 948.8,194.3 956.9,192.1 965.1,190.6 973.2,188.4 981.3,187.2 989.5,186.2 997.6,191.4 1005.8,214.9 1013.9,237.8 1022.1,255.5 1030.2,273.2 1038.3,286.8 1046.5,300.4 1054.6,310.4 1062.8,319.5 1070.9,328 1079.1,335.8 1087.2,342.9 1095.3,349.4 1103.5,355.3 1111.6,360.6 1119.8,365.5 1127.9,370 1136.1,374.1 1144.2,378.1 1152.4,381.8 1160.5,385.2 1168.6,388.1 1176.8,390.7 1184.9,393 1193.1,395.1 1201.2,397 1209.4,398.7 1217.5,400.3 1225.6,401.7 1233.8,402.9" fill="none" stroke="#008000" stroke-width="1.5" marker-start="url(#bdi)" marker-mid="url(#bdi)" marker-end="url(#bdi)"/>
<polyline points="745.2,419.8 753.3,396.2 761.5,381.5 769.6,369.7 777.8,359.4 785.9,349.8 794.1,341 802.2,332.9 810.3,324.8 818.5,318.1 826.6,311.5 834.8,304.9 842.9,299 851.1,293.1 859.2,287.9 867.3,283.5 875.5,279.1 883.6,274.6 891.8,271 899.9,267.3 908.1,263.6 916.2,260.6 924.3,258 932.5,255.5 940.6,253.3 948.8,251.4 956.9,249.7 965.1,248.1 973.2,246.4 981.3,244.7 989.5,244 997.6,259.2 1005.8,276.9 1013.9,291.6 1022.1,305.9 1030.2,318.5 1038.3,328.9 1046.5,337.8 1054.6,345.4 1062.8,352 1070.9,358 1079.1,363.6 1087.2,369 1095.3,373.8 1103.5,377.9 1111.6,381.6 1119.8,385 1127.9,388.1 1136.1,391.1 1144.2,394 1152.4,396.8 1160.5,399.3 1168.6,401.4 1176.8,403.2 1184.9,404.8 1193.1,406.2 1201.2,407.3 1209.4,408.2 1217.5,409.1 1225.6,409.8 1233.8,410.2" fill="none" stroke="#000080" stroke-width="1.5" marker-start="url(#blf)" marker-mid="url(#blf)" marker-end="url(#blf)"/>
</g>
<path d="M745.1 19.9V429M1234.6 19.9V429" stroke="#000" stroke-width="2.1" fill="none"/>
<path d="M744.1 21.4H1235.6M744.1 427.5H1235.6" stroke="#000" stroke-width="3.0" fill="none"/>
<path d="M744.1 427.2h-5.9M744.1 353.5h-5.9M744.1 279.8h-5.9M744.1 206.1h-5.9M744.1 132.4h-5.9M744.1 58.7h-5.9" stroke="#000" stroke-width="2.8" fill="none"/>
<path d="M744.1 390.3h-2.5M744.1 316.6h-2.5M744.1 242.9h-2.5M744.1 169.2h-2.5M744.1 95.6h-2.5" stroke="#000" stroke-width="2.8" fill="none"/>
<path d="M745.2 429v5.6M908.1 429v5.6M1070.9 429v5.6M1233.8 429v5.6" stroke="#000" stroke-width="2.1" fill="none"/>
<path d="M826.6 429v2M989.5 429v2M1152.4 429v2" stroke="#000" stroke-width="2.1" fill="none"/>
<text transform="translate(704.19 435.40) scale(0.9046 1)" font-size="28.83" stroke="#000">20</text>
<text transform="translate(704.19 361.70) scale(0.9046 1)" font-size="28.83" stroke="#000">30</text>
<text transform="translate(704.19 288.00) scale(0.9046 1)" font-size="28.83" stroke="#000">40</text>
<text transform="translate(704.19 214.30) scale(0.9046 1)" font-size="28.83" stroke="#000">50</text>
<text transform="translate(704.19 140.60) scale(0.9046 1)" font-size="28.83" stroke="#000">60</text>
<text transform="translate(704.19 66.90) scale(0.9046 1)" font-size="28.83" stroke="#000">70</text>
<text transform="translate(738.19 462.70) scale(0.8670 1)" font-size="29.12" stroke="#000">0</text>
<text transform="translate(887.08 462.70) scale(0.8670 1)" font-size="29.12" stroke="#000">200</text>
<text transform="translate(1050.19 462.70) scale(0.8670 1)" font-size="29.12" stroke="#000">400</text>
<text transform="translate(1212.80 462.70) scale(0.8670 1)" font-size="29.12" stroke="#000">600</text>
<text transform="translate(936.02 490.97) scale(0.8833 1)" font-size="31.96" stroke="#000">Time (s)</text>
<text transform="translate(683.85 337.32) rotate(-90) scale(0.9708 1)" font-size="32.51" stroke="#000">Temperature</text>
<text transform="translate(683.66 137.80) rotate(-90) scale(0.7249 1)" font-size="28.63" font-weight="normal">(</text>
<text transform="translate(673.02 128.46) rotate(-90) scale(1.0034 1)" font-size="17.72" font-weight="normal">o</text>
<text transform="translate(683.61 118.31) rotate(-90) scale(0.9066 1)" font-size="28.83" font-weight="normal">C</text>
<text transform="translate(683.66 94.47) rotate(-90) scale(0.7776 1)" font-size="28.63" font-weight="normal">)</text>
<text transform="translate(648.93 48.82) scale(1.0358 1)" font-size="37.96" stroke="#000">(b)</text>
<line x1="1073" y1="38.7" x2="1123.8" y2="38.7" stroke="#f0f" stroke-width="1.6"/>
<path d="M1098.3 38.7h0" fill="none" stroke="none" marker-start="url(#bdn)"/>
<text transform="translate(1128.58 47.00) scale(0.9082 1)" font-size="25.44" stroke="#000">CAT-Br</text>
<line x1="1073" y1="69.9" x2="1123.8" y2="69.9" stroke="#00f" stroke-width="1.6"/>
<path d="M1098.3 69.9h0" fill="none" stroke="none" marker-start="url(#bup)"/>
<text transform="translate(1128.57 78.20) scale(0.9091 1)" font-size="25.44" stroke="#000">CAT-Cl</text>
<line x1="1073" y1="100.9" x2="1123.8" y2="100.9" stroke="#f00" stroke-width="1.6"/>
<path d="M1098.3 100.9h0" fill="none" stroke="none" marker-start="url(#bci)"/>
<text transform="translate(1128.58 109.20) scale(0.9071 1)" font-size="25.44" stroke="#000">CAT-F</text>
<line x1="1073" y1="132" x2="1123.8" y2="132" stroke="#008000" stroke-width="1.6"/>
<path d="M1098.3 132h0" fill="none" stroke="none" marker-start="url(#bdi)"/>
<text transform="translate(1128.58 140.30) scale(0.8994 1)" font-size="25.44" stroke="#000">CAT-OMe</text>
<line x1="1073" y1="165.6" x2="1123.8" y2="165.6" stroke="#000080" stroke-width="1.6"/>
<path d="M1098.3 165.6h0" fill="none" stroke="none" marker-start="url(#blf)"/>
<text transform="translate(1128.58 173.90) scale(0.9035 1)" font-size="25.44" stroke="#000">CAT-</text>
<line x1="1073" y1="196.7" x2="1123.8" y2="196.7" stroke="#000" stroke-width="1.6"/>
<path d="M1098.3 196.7h0" fill="none" stroke="none" marker-start="url(#bsq)"/>
<text transform="translate(1128.58 205.00) scale(0.9023 1)" font-size="25.44" stroke="#000">CAT-H</text>
<text transform="translate(1181.94 162.85) scale(0.8245 1)" font-size="14.96" font-weight="normal" font-style="italic">t</text>
<text transform="translate(1185.65 173.90) scale(0.9035 1)" font-size="25.44" stroke="#000">Bu</text>
<use href="#lampon" transform="translate(826.5 36) scale(1.0)"/>
<use href="#lampoff" transform="translate(1107.6 240.9) scale(1.0)"/>
</g>
<g id="pc">
<rect x="163.3" y="788.2" width="27.7" height="124.1" fill="url(#gr)"/>
<rect x="163.3" y="788.2" width="27.7" height="124.1" fill="url(#hat)"/>
<text transform="translate(160.76 781.10) scale(0.9371 1)" font-size="21.91" fill="#f00" stroke="#f00">23.2</text>
<rect x="242.2" y="763" width="27.7" height="149.3" fill="url(#gr)"/>
<rect x="242.2" y="763" width="27.7" height="149.3" fill="url(#hat)"/>
<text transform="translate(239.74 756.40) scale(0.9371 1)" font-size="21.91" fill="#f00" stroke="#f00">27.9</text>
<rect x="321.1" y="705.7" width="27.7" height="206.6" fill="url(#gr)"/>
<rect x="321.1" y="705.7" width="27.7" height="206.6" fill="url(#hat)"/>
<text transform="translate(313.16 700.30) scale(0.9371 1)" font-size="21.91" fill="#f00" stroke="#f00">38.6</text>
<rect x="400" y="750.1" width="27.7" height="162.2" fill="url(#gr)"/>
<rect x="400" y="750.1" width="27.7" height="162.2" fill="url(#hat)"/>
<text transform="translate(396.66 745.00) scale(0.9371 1)" font-size="21.91" fill="#f00" stroke="#f00">30.3</text>
<rect x="478.9" y="669.8" width="27.7" height="242.5" fill="url(#gr)"/>
<rect x="478.9" y="669.8" width="27.7" height="242.5" fill="url(#hat)"/>
<text transform="translate(476.14 664.30) scale(0.9371 1)" font-size="21.91" fill="#f00" stroke="#f00">45.3</text>
<rect x="557.8" y="628" width="27.7" height="284.3" fill="url(#gr)"/>
<rect x="557.8" y="628" width="27.7" height="284.3" fill="url(#hat)"/>
<text transform="translate(551.18 623.10) scale(0.9371 1)" font-size="21.91" fill="#f00" stroke="#f00">53.1</text>
<rect x="131.2" y="680" width="28.8" height="232.3" fill="url(#gb)"/>
<text transform="translate(126.53 675.10) scale(0.9371 1)" font-size="21.91" fill="#00f" stroke="#00f">43.4</text>
<rect x="210.1" y="627.5" width="28.8" height="284.8" fill="url(#gb)"/>
<text transform="translate(206.11 623.40) scale(0.9371 1)" font-size="21.91" fill="#00f" stroke="#00f">53.2</text>
<rect x="289" y="574.5" width="28.8" height="337.8" fill="url(#gb)"/>
<text transform="translate(283.23 570.50) scale(0.9371 1)" font-size="21.91" fill="#00f" stroke="#00f">63.1</text>
<rect x="367.9" y="570.2" width="28.8" height="342.1" fill="url(#gb)"/>
<text transform="translate(362.94 565.40) scale(0.9371 1)" font-size="21.91" fill="#00f" stroke="#00f">63.9</text>
<rect x="446.8" y="631.3" width="28.8" height="281" fill="url(#gb)"/>
<text transform="translate(442.68 626.20) scale(0.9371 1)" font-size="21.91" fill="#00f" stroke="#00f">52.5</text>
<rect x="525.7" y="672.5" width="28.8" height="239.8" fill="url(#gb)"/>
<text transform="translate(517.69 668.30) scale(0.9371 1)" font-size="21.91" fill="#00f" stroke="#00f">44.8</text>
<line x1="115.4" y1="509.8" x2="115.4" y2="912.3" stroke="#00f" stroke-width="2.4"/>
<line x1="604.6" y1="509.8" x2="604.6" y2="913.9" stroke="#f00" stroke-width="3.1"/>
<line x1="114.2" y1="511" x2="603.1" y2="511" stroke="#000" stroke-width="2.4"/>
<line x1="114.2" y1="912.3" x2="603.1" y2="912.3" stroke="#000" stroke-width="3.3"/>
<path d="M114.2 912.4h-6.1M114.2 805.3h-6.1M114.2 698.2h-6.1M114.2 591.1h-6.1" stroke="#00f" stroke-width="2.5" fill="none"/>
<path d="M114.2 858.9h-3.1M114.2 751.8h-3.1M114.2 644.6h-3.1M114.2 537.5h-3.1" stroke="#00f" stroke-width="2.5" fill="none"/>
<path d="M606.1 912.4h4.8M606.1 805.3h4.8M606.1 698.2h4.8M606.1 591.1h4.8" stroke="#f00" stroke-width="3.1" fill="none"/>
<path d="M606.1 858.9h2.1M606.1 751.8h2.1M606.1 644.6h2.1M606.1 537.5h2.1" stroke="#f00" stroke-width="3.1" fill="none"/>
<path d="M161.9 913.9v5.7M240.8 913.9v5.7M319.7 913.9v5.7M398.6 913.9v5.7M477.5 913.9v5.7M556.4 913.9v5.7" stroke="#000" stroke-width="1.9" fill="none"/>
<text transform="translate(88.57 920.70) scale(0.9205 1)" font-size="28.55" fill="#00f" stroke="#00f">0</text>
<text transform="translate(615.85 920.70) scale(0.9205 1)" font-size="28.55" fill="#f00" stroke="#f00">0</text>
<text transform="translate(73.98 813.60) scale(0.9205 1)" font-size="28.55" fill="#00f" stroke="#00f">20</text>
<text transform="translate(615.98 813.60) scale(0.9205 1)" font-size="28.55" fill="#f00" stroke="#f00">20</text>
<text transform="translate(73.98 706.50) scale(0.9205 1)" font-size="28.55" fill="#00f" stroke="#00f">40</text>
<text transform="translate(616.51 706.50) scale(0.9205 1)" font-size="28.55" fill="#f00" stroke="#f00">40</text>
<text transform="translate(73.98 599.40) scale(0.9205 1)" font-size="28.55" fill="#00f" stroke="#00f">60</text>
<text transform="translate(615.98 599.40) scale(0.9205 1)" font-size="28.55" fill="#f00" stroke="#f00">60</text>
<text transform="translate(150.12 948.70) scale(0.9183 1)" font-size="30.40" stroke="#000">H</text>
<text transform="translate(232.89 948.70) scale(0.7843 1)" font-size="30.40" stroke="#000">F</text>
<text transform="translate(306.57 948.70) scale(0.8501 1)" font-size="30.40" stroke="#000">Cl</text>
<text transform="translate(383.23 948.70) scale(0.8623 1)" font-size="30.40" stroke="#000">Br</text>
<text transform="translate(448.87 948.70) scale(0.8442 1)" font-size="30.40" stroke="#000">OMe</text>
<text transform="translate(543.69 948.70) scale(0.8799 1)" font-size="30.40" stroke="#000">Bu</text>
<text transform="translate(538.81 936.26) scale(0.8475 1)" font-size="19.24" font-style="italic" stroke="#000">t</text>
<text transform="translate(6.41 550.73) scale(1.0349 1)" font-size="38.39" stroke="#000">(c)</text>
<rect x="447.4" y="523" width="41.5" height="21.8" fill="url(#gb)"/>
<rect x="447.1" y="565" width="42.8" height="21.9" fill="url(#gr)"/><rect x="447.1" y="565" width="42.8" height="21.9" fill="url(#hat)"/>
<text transform="translate(504.54 542.70) scale(0.8894 1)" font-size="26.62" font-style="italic" fill="#00f" stroke="#00f">T</text>
<text transform="translate(517.86 549.63) scale(0.9614 1)" font-size="16.62" fill="#00f" stroke="#00f">max</text>
<text transform="translate(554.99 541.97) scale(0.6719 1)" font-size="24.24" fill="#00f" stroke="#00f">(</text>
<text transform="translate(561.97 530.96) scale(0.9715 1)" font-size="14.43" fill="#00f" stroke="#00f">o</text>
<text transform="translate(570.43 542.64) scale(0.9184 1)" font-size="26.43" fill="#00f" stroke="#00f">C</text>
<text transform="translate(588.76 541.97) scale(0.6779 1)" font-size="24.24" fill="#00f" stroke="#00f">)</text>
<text transform="translate(503.56 584.50) scale(0.9592 1)" font-size="26.04" font-style="italic" fill="#f00" stroke="#f00">&#951;</text>
<text transform="translate(524.82 585.40) scale(0.9263 1)" font-size="25.52" fill="#f00" stroke="#f00">(%)</text>
</g>
<g id="pd">
<polyline points="758.8,858.6 770.8,781.8 794.6,683.9 890.1,586.8 985.6,539.9 1224.4,662.1" fill="none" stroke="#00f" stroke-width="1.9"/>
<ellipse cx="758.8" cy="858.6" rx="5.55" ry="6.5" fill="#f00" stroke="#fff" stroke-width="3" paint-order="stroke"/>
<ellipse cx="770.8" cy="781.8" rx="5.55" ry="6.5" fill="#f00" stroke="#fff" stroke-width="3" paint-order="stroke"/>
<ellipse cx="794.6" cy="683.9" rx="5.55" ry="6.5" fill="#f00" stroke="#fff" stroke-width="3" paint-order="stroke"/>
<ellipse cx="890.1" cy="586.8" rx="5.55" ry="6.5" fill="#f00" stroke="#fff" stroke-width="3" paint-order="stroke"/>
<ellipse cx="985.6" cy="539.9" rx="5.55" ry="6.5" fill="#f00" stroke="#fff" stroke-width="3" paint-order="stroke"/>
<ellipse cx="1224.4" cy="662.1" rx="5.55" ry="6.5" fill="#f00" stroke="#fff" stroke-width="3" paint-order="stroke"/>
<path d="M741.9 508.1V914.9M1234.7 508.1V914.9" stroke="#000" stroke-width="2.2" fill="none"/>
<path d="M740.8 509.4H1235.8M740.8 913.6H1235.8" stroke="#000" stroke-width="2.6" fill="none"/>
<path d="M740.8 873.2h-5.7M740.8 792.3h-5.7M740.8 711.4h-5.7M740.8 630.5h-5.7M740.8 549.6h-5.7" stroke="#000" stroke-width="2.8" fill="none"/>
<path d="M740.8 832.8h-1.8M740.8 751.9h-1.8M740.8 671h-1.8M740.8 590.1h-1.8" stroke="#000" stroke-width="2.8" fill="none"/>
<path d="M746.9 914.9v6.4M842.4 914.9v6.4M937.9 914.9v6.4M1033.4 914.9v6.4M1128.9 914.9v6.4M1224.4 914.9v6.4" stroke="#000" stroke-width="1.9" fill="none"/>
<path d="M794.6 914.9v2.6M890.1 914.9v2.6M985.6 914.9v2.6M1081.2 914.9v2.6M1176.7 914.9v2.6" stroke="#000" stroke-width="1.9" fill="none"/>
<text transform="translate(701.24 881.40) scale(0.9216 1)" font-size="28.55" stroke="#000">40</text>
<text transform="translate(701.24 800.50) scale(0.9216 1)" font-size="28.55" stroke="#000">50</text>
<text transform="translate(701.24 719.60) scale(0.9216 1)" font-size="28.55" stroke="#000">60</text>
<text transform="translate(701.24 638.70) scale(0.9216 1)" font-size="28.55" stroke="#000">70</text>
<text transform="translate(701.24 557.80) scale(0.9216 1)" font-size="28.55" stroke="#000">80</text>
<text transform="translate(739.60 948.50) scale(0.9216 1)" font-size="28.55" stroke="#000">0</text>
<text transform="translate(835.13 948.50) scale(0.9216 1)" font-size="28.55" stroke="#000">2</text>
<text transform="translate(930.47 948.50) scale(0.9216 1)" font-size="28.55" stroke="#000">4</text>
<text transform="translate(1026.10 948.50) scale(0.9216 1)" font-size="28.55" stroke="#000">6</text>
<text transform="translate(1121.57 948.50) scale(0.9216 1)" font-size="28.55" stroke="#000">8</text>
<text transform="translate(1209.50 948.50) scale(0.9216 1)" font-size="28.55" stroke="#000">10</text>
<text transform="translate(772.40 869.70) scale(0.8940 1)" font-size="29.96" stroke="#000">41.8</text>
<text transform="translate(783.69 796.30) scale(0.8982 1)" font-size="29.96" stroke="#000">51.3</text>
<text transform="translate(805.28 706.60) scale(0.8759 1)" font-size="29.96" stroke="#000">63.4</text>
<text transform="translate(889.59 625.20) scale(0.8688 1)" font-size="29.96" stroke="#000">75.4</text>
<text transform="translate(959.23 583.60) scale(0.8917 1)" font-size="29.96" stroke="#000">81.2</text>
<text transform="translate(1173.11 700.80) scale(0.8533 1)" font-size="29.96" stroke="#000">66.1</text>
<text transform="translate(648.83 543.63) scale(1.0264 1)" font-size="38.39" stroke="#000">(d)</text>
<text transform="translate(683.10 745.42) rotate(-90) scale(0.7793 1)" font-size="33.31" font-style="italic" stroke="#000">T</text>
<text transform="translate(690.48 728.12) rotate(-90) scale(0.9202 1)" font-size="22.10" stroke="#000">max</text>
<text transform="translate(682.33 676.31) rotate(-90) scale(0.7439 1)" font-size="31.85" font-family='"Liberation Serif", "Times New Roman", Times, serif' stroke="#000">(</text>
<text transform="translate(671.60 665.49) rotate(-90) scale(0.6608 1)" font-size="19.58" font-family='"Liberation Serif", "Times New Roman", Times, serif' stroke="#000">o</text>
<text transform="translate(683.38 656.12) rotate(-90) scale(0.9255 1)" font-size="32.42" font-family='"Liberation Serif", "Times New Roman", Times, serif' stroke="#000">C</text>
<text transform="translate(682.33 633.27) rotate(-90) scale(0.7439 1)" font-size="31.85" font-family='"Liberation Serif", "Times New Roman", Times, serif' stroke="#000">)</text>
<text transform="translate(914.29 974.41) scale(0.9390 1)" font-size="28.68" font-style="italic" stroke="#000">c</text>
<text transform="translate(936.23 974.59) scale(0.9424 1)" font-size="29.20" font-family='"Liberation Serif", "Times New Roman", Times, serif' stroke="#000">(&#956;mol/mL)</text>
</g>
<g id="pe">
<polyline points="122.3,1349.5 130.2,1318.6 138.2,1287 146.1,1254.6 154,1224.5 162,1198 169.9,1177.4 177.8,1157.6 185.8,1141.4 193.7,1128.1 201.6,1114.9 209.6,1104.6 217.5,1094.3 225.5,1086.2 233.4,1078.1 241.3,1071.5 249.3,1065.6 257.2,1061.2 265.1,1057.5 273.1,1054.6 281,1051.7 288.9,1049.9 296.9,1048.7 304.8,1047.9 312.7,1047.2 320.7,1046.7 328.6,1046.2 336.5,1045.8 344.5,1045.4 352.4,1045.2 360.3,1045 368.3,1066.4 376.2,1093.6 384.2,1116.4 392.1,1137 400,1155.4 408,1170.8 415.9,1185.5 423.8,1198 431.8,1208.3 439.7,1220.8 447.6,1230.4 455.6,1239.2 463.5,1247.3 471.4,1254.6 479.4,1261.6 487.3,1268.6 495.2,1275.2 503.2,1280.4 511.1,1285.5 519,1289.9 527,1294.3 534.9,1298.8 542.9,1302.4 550.8,1306.1 558.7,1309.8 566.7,1312.7 574.6,1315.3 582.5,1317.9 590.5,1320.1 598.4,1322.3" fill="none" stroke="#000" stroke-width="1.6" marker-start="url(#esq)" marker-mid="url(#esq)" marker-end="url(#esq)"/>
<polyline points="122.3,1381.9 130.2,1362.7 138.2,1334.1 146.1,1306.8 154,1284.8 162,1265.7 169.9,1248.7 177.8,1235.1 185.8,1223 193.7,1211.2 201.6,1201.7 209.6,1192.9 217.5,1185.5 225.5,1179.6 233.4,1174.5 241.3,1169.7 249.3,1166.4 257.2,1162.7 265.1,1159.8 273.1,1157.6 281,1156.1 288.9,1154.5 296.9,1153.1 304.8,1152.3 312.7,1151.7 320.7,1151.1 328.6,1150.6 336.5,1150.2 344.5,1149.9 352.4,1149.6 360.3,1149.5 368.3,1156.8 376.2,1176.7 384.2,1196.9 392.1,1213.4 400,1227.4 408,1239.2 415.9,1251.7 423.8,1260.5 431.8,1270.4 439.7,1279.3 447.6,1287 455.6,1293.6 463.5,1300.2 471.4,1305.7 479.4,1310.8 487.3,1315.3 495.2,1319.3 503.2,1323.4 511.1,1326.7 519,1330.4 527,1333.5 534.9,1336.3 542.9,1338.7 550.8,1341 558.7,1343.5 566.7,1345.8 574.6,1347.8 582.5,1349.5 590.5,1351.1 598.4,1352.4" fill="none" stroke="#f00" stroke-width="1.6" marker-start="url(#eci)" marker-mid="url(#eci)" marker-end="url(#eci)"/>
<polyline points="122.3,1364.9 130.2,1354.6 138.2,1342.1 146.1,1331.1 154,1319.3 162,1309.8 169.9,1301.7 177.8,1294.3 185.8,1288.1 193.7,1281.8 201.6,1276.7 209.6,1272.3 217.5,1267.9 225.5,1264.2 233.4,1261.3 241.3,1258.3 249.3,1255.9 257.2,1253.9 265.1,1252.4 273.1,1251 281,1249.5 288.9,1248 296.9,1246.4 304.8,1245.1 312.7,1244.3 320.7,1243.6 328.6,1243 336.5,1242.5 344.5,1242 352.4,1241.6 360.3,1241.4 368.3,1252.8 376.2,1266.4 384.2,1276 392.1,1284 400,1292.9 408,1301 415.9,1306.8 423.8,1313.5 431.8,1317.9 439.7,1322.3 447.6,1326 455.6,1329.6 463.5,1332.6 471.4,1336.3 479.4,1338.5 487.3,1341 495.2,1343.6 503.2,1346 511.1,1348 519,1349.6 527,1351 534.9,1352.4 542.9,1353.9 550.8,1355.5 558.7,1356.9 566.7,1357.8 574.6,1358.7 582.5,1359.6 590.5,1360.4 598.4,1361.3" fill="none" stroke="#008000" stroke-width="1.6" marker-start="url(#eup)" marker-mid="url(#eup)" marker-end="url(#eup)"/>
<polyline points="122.3,1376.7 130.2,1370.8 138.2,1362.7 146.1,1352.4 154,1345.8 162,1339.9 169.9,1334.8 177.8,1330.4 185.8,1326 193.7,1322.3 201.6,1318.6 209.6,1315.7 217.5,1313.5 225.5,1310.8 233.4,1309.1 241.3,1306.8 249.3,1305.3 257.2,1303.9 265.1,1302.4 273.1,1301 281,1299.4 288.9,1298 296.9,1296.8 304.8,1295.8 312.7,1295.3 320.7,1294.8 328.6,1294.2 336.5,1293.6 344.5,1293.1 352.4,1292.9 360.3,1293 368.3,1293.2 376.2,1299.5 384.2,1306.8 392.1,1314.6 400,1320.8 408,1326.7 415.9,1331.5 423.8,1336.3 431.8,1339.9 439.7,1342.9 447.6,1345.8 455.6,1348.8 463.5,1351 471.4,1353.2 479.4,1354.9 487.3,1356.7 495.2,1358.3 503.2,1359.5 511.1,1360.5 519,1361.6 527,1362.7 534.9,1363.9 542.9,1364.9 550.8,1365.7 558.7,1366.4 566.7,1367 574.6,1367.5 582.5,1367.9 590.5,1368.3 598.4,1368.6" fill="none" stroke="#2e9fd2" stroke-width="1.6" marker-start="url(#edn)" marker-mid="url(#edn)" marker-end="url(#edn)"/>
<path d="M115.4 992.7V1399.9M607.1 992.7V1399.9" stroke="#000" stroke-width="2.3" fill="none"/>
<path d="M114.2 994H608.2M114.2 1398.6H608.2" stroke="#000" stroke-width="2.6" fill="none"/>
<path d="M114.2 1362h-7.8M114.2 1288.5h-7.8M114.2 1214.9h-7.8M114.2 1141.4h-7.8M114.2 1067.8h-7.8M114.2 994.3h-7.8" stroke="#000" stroke-width="2.2" fill="none"/>
<path d="M114.2 1325.2h-3.8M114.2 1251.7h-3.8M114.2 1178.2h-3.8M114.2 1104.6h-3.8M114.2 1031.1h-3.8" stroke="#000" stroke-width="2.2" fill="none"/>
<path d="M122.3 1399.9v7.4M241.3 1399.9v7.4M360.3 1399.9v7.4M479.4 1399.9v7.4M598.4 1399.9v7.4" stroke="#000" stroke-width="1.9" fill="none"/>
<path d="M181.8 1399.9v3.6M300.8 1399.9v3.6M419.9 1399.9v3.6M538.9 1399.9v3.6" stroke="#000" stroke-width="1.9" fill="none"/>
<text transform="translate(73.77 1370.20) scale(0.9226 1)" font-size="28.69" stroke="#000">20</text>
<text transform="translate(73.77 1296.66) scale(0.9226 1)" font-size="28.69" stroke="#000">30</text>
<text transform="translate(73.77 1223.12) scale(0.9226 1)" font-size="28.69" stroke="#000">40</text>
<text transform="translate(73.77 1149.58) scale(0.9226 1)" font-size="28.69" stroke="#000">50</text>
<text transform="translate(73.77 1076.04) scale(0.9226 1)" font-size="28.69" stroke="#000">60</text>
<text transform="translate(73.77 1002.50) scale(0.9226 1)" font-size="28.69" stroke="#000">70</text>
<text transform="translate(115.45 1433.40) scale(0.8935 1)" font-size="28.45" stroke="#000">0</text>
<text transform="translate(220.04 1433.40) scale(0.8935 1)" font-size="28.45" stroke="#000">150</text>
<text transform="translate(339.58 1433.40) scale(0.8935 1)" font-size="28.45" stroke="#000">300</text>
<text transform="translate(458.70 1433.40) scale(0.8935 1)" font-size="28.45" stroke="#000">450</text>
<text transform="translate(577.47 1433.40) scale(0.8935 1)" font-size="28.45" stroke="#000">600</text>
<text transform="translate(307.12 1463.67) scale(0.9375 1)" font-size="30.03" stroke="#000">Time (s)</text>
<text transform="translate(44.69 1321.11) rotate(-90) scale(0.9892 1)" font-size="31.84" stroke="#000">Temperature</text>
<text transform="translate(43.89 1122.04) rotate(-90) scale(0.7685 1)" font-size="27.99" font-weight="normal">(</text>
<text transform="translate(33.62 1112.56) rotate(-90) scale(1.0139 1)" font-size="17.53" font-weight="normal">o</text>
<text transform="translate(44.71 1102.41) rotate(-90) scale(0.8892 1)" font-size="29.40" font-weight="normal">C</text>
<text transform="translate(43.89 1078.47) rotate(-90) scale(0.7955 1)" font-size="27.99" font-weight="normal">)</text>
<text transform="translate(8.83 1021.81) scale(1.0251 1)" font-size="38.50" stroke="#000">(e)</text>
<text transform="translate(310.10 1037.90) scale(0.9209 1)" font-size="27.84" stroke="#000">63.1</text>
<text transform="translate(307.62 1140.10) scale(0.9209 1)" font-size="27.84" fill="#f00" stroke="#f00">48.7</text>
<text transform="translate(306.52 1232.30) scale(0.9209 1)" font-size="27.84" fill="#008000" stroke="#008000">36.3</text>
<text transform="translate(306.20 1287.80) scale(0.9209 1)" font-size="27.84" fill="#1e96ff" stroke="#1e96ff">29.3</text>
<text transform="translate(479.15 1027.00) scale(0.8901 1)" font-size="27.45" stroke="#000">I (W&#183;cm</text>
<text transform="translate(567.40 1013.10) scale(0.9850 1)" font-size="13.62" stroke="#000">-2</text>
<text transform="translate(580.94 1027.00) scale(0.8846 1)" font-size="27.45" stroke="#000">)</text>
<line x1="492.3" y1="1060.7" x2="543.8" y2="1060.7" stroke="#000" stroke-width="1.9"/>
<path d="M517.7 1060.7h0" fill="none" stroke="none" marker-start="url(#esq)"/>
<text transform="translate(549.45 1068.70) scale(0.9505 1)" font-size="25.44" stroke="#000">2.0</text>
<line x1="492.3" y1="1097.9" x2="543.8" y2="1097.9" stroke="#f00" stroke-width="1.9"/>
<path d="M517.7 1097.9h0" fill="none" stroke="none" marker-start="url(#eci)"/>
<text transform="translate(549.09 1105.90) scale(0.9505 1)" font-size="25.44" stroke="#000">1.5</text>
<line x1="492.3" y1="1134.8" x2="543.8" y2="1134.8" stroke="#008000" stroke-width="1.9"/>
<path d="M517.7 1134.8h0" fill="none" stroke="none" marker-start="url(#eup)"/>
<text transform="translate(549.45 1142.80) scale(0.9505 1)" font-size="25.44" stroke="#000">1.0</text>
<line x1="492.3" y1="1171.9" x2="543.8" y2="1171.9" stroke="#2e9fd2" stroke-width="1.9"/>
<path d="M517.7 1171.9h0" fill="none" stroke="none" marker-start="url(#edn)"/>
<text transform="translate(549.09 1179.90) scale(0.9505 1)" font-size="25.44" stroke="#000">0.5</text>
<use href="#lampon" transform="translate(200.8 1015) scale(0.98)"/>
<use href="#lampoff" transform="translate(421.3 1093.2) scale(0.98)"/>
</g>
<g id="pf">
<polyline points="745.4,1346.1 746.8,1305.9 748.1,1269.9 749.5,1243.4 750.8,1219.3 752.1,1198.2 753.5,1178.6 754.8,1162.2 756.1,1146.7 757.5,1132.1 758.8,1119 760.2,1110.4 761.5,1101.2 762.8,1093.6 764.2,1086.8 765.5,1081.2 766.9,1076.7 768.2,1072.8 769.5,1069.3 770.9,1066 772.2,1063 773.5,1060.4 774.9,1058.2 776.2,1056.2 777.6,1054.5 778.9,1052.9 780.2,1051.6 781.6,1050.4 782.9,1049.3 784.3,1048.5 785.6,1079.2 786.9,1104.3 788.3,1126.1 789.6,1145.7 790.9,1163.6 792.3,1178.9 793.6,1193.7 795,1205.7 796.3,1217.5 797.6,1228.3 799,1238.7 800.3,1248.2 801.7,1257.6 803,1266.8 804.3,1274.7 805.7,1281.2 807,1287.1 808.3,1292.4 809.7,1297.2 811,1301.5 812.4,1305.4 813.7,1308.9 815,1312.2 816.4,1315.1 817.7,1317.7 819.1,1320.1 820.4,1322.4 821.7,1324.4 823.1,1326.2 824.4,1327.8 825.7,1317 827.1,1289.1 828.4,1263.4 829.8,1241.5 831.1,1223.1 832.4,1206.9 833.8,1192 835.1,1178.2 836.5,1166.6 837.8,1156.3 839.1,1146.6 840.5,1138 841.8,1129.3 843.1,1121.8 844.5,1114.8 845.8,1108.6 847.2,1103.1 848.5,1098.1 849.8,1093.6 851.2,1089.4 852.5,1085.5 853.9,1081.8 855.2,1078.5 856.5,1075.2 857.9,1072 859.2,1068.9 860.5,1065.9 861.9,1063 863.2,1060.1 864.6,1057.4 865.9,1087.2 867.2,1111.6 868.6,1132.7 869.9,1151.7 871.3,1169 872.6,1183.9 873.9,1198.3 875.3,1209.9 876.6,1221.3 878,1231.9 879.3,1241.9 880.6,1251.1 882,1260.3 883.3,1269.2 884.6,1276.9 886,1283.2 887.3,1288.9 888.7,1294.1 890,1298.7 891.3,1302.9 892.7,1306.6 894,1310.1 895.4,1313.2 896.7,1316 898,1318.6 899.4,1320.9 900.7,1323.1 902,1325.1 903.4,1326.9 904.7,1328.3 906.1,1317.5 907.4,1289.7 908.7,1264.1 910.1,1242.2 911.4,1223.8 912.8,1207.6 914.1,1192.7 915.4,1179 916.8,1167.4 918.1,1157.1 919.4,1147.4 920.8,1138.7 922.1,1130.1 923.5,1122.6 924.8,1115.6 926.1,1109.4 927.5,1103.9 928.8,1099 930.2,1094.4 931.5,1090.2 932.8,1086.3 934.2,1082.7 935.5,1079.3 936.8,1076 938.2,1072.8 939.5,1069.7 940.9,1066.7 942.2,1063.8 943.5,1061 944.9,1058.2 946.2,1087.9 947.6,1112.1 948.9,1133.2 950.2,1152 951.6,1169.3 952.9,1184.1 954.2,1198.4 955.6,1210 956.9,1221.3 958.3,1231.8 959.6,1241.8 960.9,1251 962.3,1260.1 963.6,1269 965,1276.6 966.3,1282.8 967.6,1288.5 969,1293.7 970.3,1298.3 971.6,1302.4 973,1306.2 974.3,1309.6 975.7,1312.7 977,1315.5 978.3,1318.1 979.7,1320.4 981,1322.6 982.4,1324.5 983.7,1326.3 985,1327.8 986.4,1316.8 987.7,1288.7 989,1262.7 990.4,1240.5 991.7,1221.9 993.1,1205.5 994.4,1190.4 995.7,1176.5 997.1,1164.7 998.4,1154.3 999.8,1144.5 1001.1,1135.7 1002.4,1127 1003.8,1119.4 1005.1,1112.4 1006.4,1106 1007.8,1100.5 1009.1,1095.5 1010.5,1090.9 1011.8,1086.6 1013.1,1082.6 1014.5,1079 1015.8,1075.6 1017.2,1072.3 1018.5,1069 1019.8,1065.9 1021.2,1062.8 1022.5,1059.9 1023.8,1057 1025.2,1054.2 1026.5,1084.2 1027.9,1108.8 1029.2,1130.1 1030.5,1149.2 1031.9,1166.7 1033.2,1181.7 1034.6,1196.2 1035.9,1207.9 1037.2,1219.4 1038.6,1230 1039.9,1240.1 1041.2,1249.4 1042.6,1258.6 1043.9,1267.7 1045.3,1275.3 1046.6,1281.7 1047.9,1287.5 1049.3,1292.7 1050.6,1297.4 1052,1301.5 1053.3,1305.3 1054.6,1308.8 1056,1311.9 1057.3,1314.8 1058.6,1317.4 1060,1319.7 1061.3,1321.9 1062.7,1323.9 1064,1325.7 1065.3,1327.2 1066.7,1316.2 1068,1287.8 1069.4,1261.7 1070.7,1239.4 1072,1220.7 1073.4,1204.2 1074.7,1189 1076,1175 1077.4,1163.1 1078.7,1152.7 1080.1,1142.8 1081.4,1134 1082.7,1125.1 1084.1,1117.5 1085.4,1110.4 1086.8,1104.1 1088.1,1098.5 1089.4,1093.4 1090.8,1088.8 1092.1,1084.5 1093.4,1080.5 1094.8,1076.8 1096.1,1073.4 1097.5,1070.1 1098.8,1066.8 1100.1,1063.7 1101.5,1060.6 1102.8,1057.6 1104.2,1054.7 1105.5,1051.9 1106.8,1081.8 1108.2,1106.2 1109.5,1127.3 1110.8,1146.3 1112.2,1163.7 1113.5,1178.6 1114.9,1193 1116.2,1204.6 1117.5,1216 1118.9,1226.6 1120.2,1236.7 1121.6,1245.9 1122.9,1255.1 1124.2,1264 1125.6,1271.6 1126.9,1278 1128.2,1283.7 1129.6,1288.9 1130.9,1293.5 1132.3,1297.7 1133.6,1301.4 1134.9,1304.9 1136.3,1308 1137.6,1310.9 1139,1313.4 1140.3,1315.8 1141.6,1317.9 1143,1319.9 1144.3,1321.7 1145.7,1323.2 1147,1312.3 1148.3,1284.4 1149.7,1258.6 1151,1236.7 1152.3,1218.2 1153.7,1201.9 1155,1187 1156.4,1173.2 1157.7,1161.5 1159,1151.2 1160.4,1141.4 1161.7,1132.8 1163.1,1124.1 1164.4,1116.5 1165.7,1109.6 1167.1,1103.3 1168.4,1097.8 1169.7,1092.8 1171.1,1088.3 1172.4,1084 1173.8,1080.1 1175.1,1076.5 1176.4,1073.1 1177.8,1069.8 1179.1,1066.6 1180.5,1063.5 1181.8,1060.5 1183.1,1057.5 1184.5,1054.7 1185.8,1051.9 1187.1,1081.8 1188.5,1106.2 1189.8,1127.3 1191.2,1146.3 1192.5,1163.7 1193.8,1178.6 1195.2,1193 1196.5,1204.6 1197.9,1216 1199.2,1226.6 1200.5,1236.7 1201.9,1245.9 1203.2,1255.1 1204.5,1264 1205.9,1271.6 1207.2,1278 1208.6,1283.7 1209.9,1288.9 1211.2,1293.5 1212.6,1297.7 1213.9,1301.4 1215.3,1304.9 1216.6,1308 1217.9,1310.9 1219.3,1313.4 1220.6,1315.8 1221.9,1317.9 1223.3,1319.9 1224.6,1321.7 1226,1323.2" fill="none" stroke="#00f" stroke-width="0.9" marker-start="url(#fci)" marker-mid="url(#fci)" marker-end="url(#fci)"/>
<path d="M741.4 991.9V1396.4M1234.4 991.9V1396.4" stroke="#000" stroke-width="2.8" fill="none"/>
<path d="M740 993.4H1235.8M740 1394.9H1235.8" stroke="#000" stroke-width="3.0" fill="none"/>
<path d="M740 1366.2h-6.1M740 1251.5h-6.1M740 1136.8h-6.1M740 1022.1h-6.1" stroke="#000" stroke-width="2.6" fill="none"/>
<path d="M740 1308.9h-2.1M740 1194.2h-2.1M740 1079.5h-2.1" stroke="#000" stroke-width="2.6" fill="none"/>
<path d="M744.1 1396.4v6.2M824.4 1396.4v6.2M904.7 1396.4v6.2M985 1396.4v6.2M1065.3 1396.4v6.2M1145.7 1396.4v6.2M1226 1396.4v6.2" stroke="#000" stroke-width="1.9" fill="none"/>
<path d="M784.3 1396.4v2.8M864.6 1396.4v2.8M944.9 1396.4v2.8M1025.2 1396.4v2.8M1105.5 1396.4v2.8M1185.8 1396.4v2.8" stroke="#000" stroke-width="1.9" fill="none"/>
<text transform="translate(700.56 1374.50) scale(0.9092 1)" font-size="28.41" stroke="#000">20</text>
<text transform="translate(700.56 1259.80) scale(0.9092 1)" font-size="28.41" stroke="#000">40</text>
<text transform="translate(700.56 1145.10) scale(0.9092 1)" font-size="28.41" stroke="#000">60</text>
<text transform="translate(700.56 1030.40) scale(0.9092 1)" font-size="28.41" stroke="#000">80</text>
<text transform="translate(737.47 1430.00) scale(0.9318 1)" font-size="27.56" stroke="#000">0</text>
<text transform="translate(803.56 1430.00) scale(0.9318 1)" font-size="27.56" stroke="#000">600</text>
<text transform="translate(876.39 1430.00) scale(0.9318 1)" font-size="27.56" stroke="#000">1200</text>
<text transform="translate(956.70 1430.00) scale(0.9318 1)" font-size="27.56" stroke="#000">1800</text>
<text transform="translate(1037.36 1430.00) scale(0.9318 1)" font-size="27.56" stroke="#000">2400</text>
<text transform="translate(1117.83 1430.00) scale(0.9318 1)" font-size="27.56" stroke="#000">3000</text>
<text transform="translate(1198.14 1430.00) scale(0.9318 1)" font-size="27.56" stroke="#000">3600</text>
<text transform="translate(935.02 1459.64) scale(0.9476 1)" font-size="29.71" stroke="#000">Time (s)</text>
<text transform="translate(680.76 1313.61) rotate(-90) scale(0.9970 1)" font-size="31.51" stroke="#000">Temperature</text>
<text transform="translate(680.16 1116.78) rotate(-90) scale(0.9138 1)" font-size="27.67" font-weight="normal">(</text>
<text transform="translate(670.13 1106.67) rotate(-90) scale(0.9026 1)" font-size="17.35" font-weight="normal">o</text>
<text transform="translate(680.61 1097.41) rotate(-90) scale(0.8892 1)" font-size="29.40" font-weight="normal">C</text>
<text transform="translate(680.16 1072.89) rotate(-90) scale(0.9138 1)" font-size="27.67" font-weight="normal">)</text>
<text transform="translate(647.83 1027.83) scale(1.0274 1)" font-size="38.39" stroke="#000">(f)</text>
<use href="#lampons" transform="translate(759.6 1015.2) scale(0.55)"/>
<use href="#lampons" transform="translate(843 1015.2) scale(0.55)"/>
<use href="#lampons" transform="translate(926.2 1015.2) scale(0.55)"/>
<use href="#lampons" transform="translate(1005 1015.2) scale(0.55)"/>
<use href="#lampons" transform="translate(1083.9 1015.2) scale(0.55)"/>
<use href="#lampons" transform="translate(1163.8 1015.2) scale(0.55)"/>
<use href="#lampoffs" transform="translate(803.1 1121.1) scale(0.55)"/>
<use href="#lampoffs" transform="translate(883.3 1120) scale(0.55)"/>
<use href="#lampoffs" transform="translate(962.9 1120) scale(0.55)"/>
<use href="#lampoffs" transform="translate(1044 1118.8) scale(0.55)"/>
<use href="#lampoffs" transform="translate(1123.7 1118.8) scale(0.55)"/>
<use href="#lampoffs" transform="translate(1203.7 1117.5) scale(0.55)"/>
</g>
</svg>
</body></html>
